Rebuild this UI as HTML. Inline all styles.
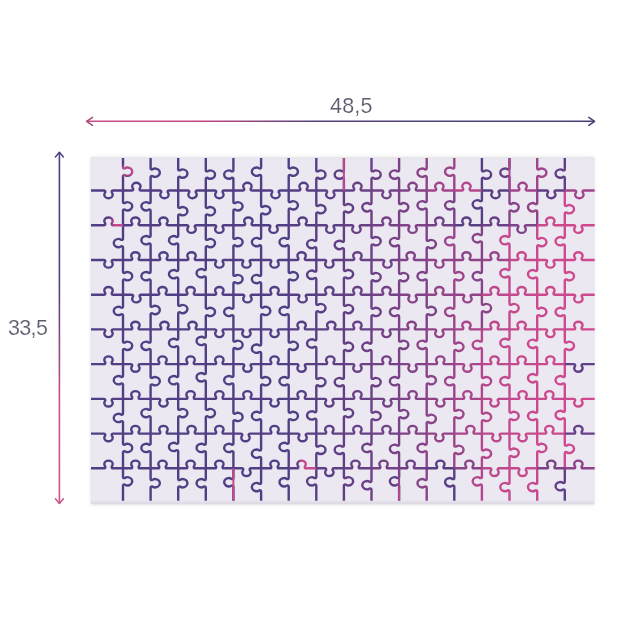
<!DOCTYPE html>
<html><head><meta charset="utf-8">
<style>
html,body{margin:0;padding:0;background:#fff;}
body{width:620px;height:620px;position:relative;overflow:hidden;font-family:"Liberation Sans",sans-serif;}
.bg{position:absolute;left:91px;top:156.5px;width:503.4px;height:347px;background:linear-gradient(#e6e5eb 0,#eae8f0 3px,#ebe8f1 6px);box-shadow:0 0 4px rgba(60,50,80,0.10),0 1px 2px rgba(60,50,80,0.10),inset 0 -2.5px 1.5px rgba(60,50,80,0.07);}
.t{position:absolute;color:#5b5b6d;will-change:transform;font-size:21.5px;line-height:22px;letter-spacing:0.2px;-webkit-text-stroke:0.15px #fff;}
svg{position:absolute;left:0;top:0;}
</style></head><body>
<div class="bg"></div>
<div class="t" style="left:329.5px;top:94.7px;">48,5</div>
<div class="t" style="left:7.5px;top:316.5px;letter-spacing:-0.65px;">33,5</div>
<svg width="620" height="620" viewBox="0 0 620 620">
<defs>
<linearGradient id="gh" x1="86" y1="0" x2="595" y2="0" gradientUnits="userSpaceOnUse">
<stop offset="0" stop-color="#cc4c88"/><stop offset="0.22" stop-color="#c44884"/><stop offset="0.45" stop-color="#534279"/><stop offset="1" stop-color="#4a3f76"/>
</linearGradient>
<linearGradient id="gv" x1="0" y1="152" x2="0" y2="504" gradientUnits="userSpaceOnUse">
<stop offset="0" stop-color="#4b4282"/><stop offset="0.38" stop-color="#54407e"/><stop offset="0.72" stop-color="#c9508a"/><stop offset="1" stop-color="#d0528a"/>
</linearGradient>
</defs>
<g fill="none" stroke-width="1.6" stroke-linecap="round" stroke-linejoin="round">
<path d="M86.5 121.3H594.5" stroke="url(#gh)" stroke-linecap="butt"/>
<path d="M92.5 117.4L86.6 121.3L92.5 125.3" stroke="#a84a7c" stroke-width="1.5"/>
<path d="M588.8 117.4L594.6 121.3L588.8 125.3" stroke="#4a3f76" stroke-width="1.5"/>
<path d="M59.4 152V503.8" stroke="url(#gv)" stroke-linecap="butt"/>
<path d="M55.4 156.9L59.4 152.2L63.4 156.9" stroke="#4b4282" stroke-width="1.5"/>
<path d="M55.4 498.8L59.4 503.5L63.4 498.8" stroke="#c8568a" stroke-width="1.5"/>
</g>
<g fill="none" stroke-width="2.4" stroke-linecap="butt" stroke-linejoin="round">
<defs><linearGradient id="g0" gradientUnits="userSpaceOnUse" x1="123" y1="158" x2="123" y2="190.5"><stop offset="0.18" stop-color="#523e84"/><stop offset="0.3" stop-color="#ba488c"/><stop offset="0.5" stop-color="#ba488c"/><stop offset="0.6" stop-color="#523e84"/></linearGradient><linearGradient id="g1" gradientUnits="userSpaceOnUse" x1="91" y1="225.2" x2="123" y2="225.2"><stop offset="0.55" stop-color="#523e84"/><stop offset="0.75" stop-color="#c7498d"/></linearGradient><linearGradient id="g2" gradientUnits="userSpaceOnUse" x1="288.7" y1="468.3" x2="316.3" y2="468.3"><stop offset="0.3" stop-color="#583f84"/><stop offset="0.5" stop-color="#c7498d"/></linearGradient><linearGradient id="gx1" gradientUnits="userSpaceOnUse" x1="0" y1="468.3" x2="0" y2="500.8"><stop offset="0.2" stop-color="#804288"/><stop offset="0.8" stop-color="#ba488c"/></linearGradient></defs>
<path d="M123 158L123 167.08Q123 168.48 124.4 168.48C125.4 168.48 125.4 167.48 127.2 167.48A4.2 3.5 0 0 1 127.2 175.88C125.4 175.88 125.4 174.88 124.4 174.88Q123 174.88 123 176.28L123 190.5" stroke="url(#g0)"/>
<path d="M150.6 158L150.6 168.05Q150.6 169.45 152 169.45C153 169.45 153 168.45 154.8 168.45A4.2 3.5 0 0 1 154.8 176.85C153 176.85 153 175.85 152 175.85Q150.6 175.85 150.6 177.25L150.6 190.5" stroke="#523e84"/>
<path d="M178.2 158L178.2 169.02Q178.2 170.42 179.6 170.42C180.6 170.42 180.6 169.42 182.4 169.42A4.2 3.5 0 0 1 182.4 177.82C180.6 177.82 180.6 176.82 179.6 176.82Q178.2 176.82 178.2 178.22L178.2 190.5" stroke="#523e84"/>
<path d="M205.8 158L205.8 169.99Q205.8 171.39 207.2 171.39C208.2 171.39 208.2 170.39 210 170.39A4.2 3.5 0 0 1 210 178.79C208.2 178.79 208.2 177.79 207.2 177.79Q205.8 177.79 205.8 179.19L205.8 190.5" stroke="#523e84"/>
<path d="M233.4 158L233.4 169.99Q233.4 171.39 232 171.39C231 171.39 231 170.39 229.2 170.39A4.2 3.5 0 0 0 229.2 178.79C231 178.79 231 177.79 232 177.79Q233.4 177.79 233.4 179.19L233.4 190.5" stroke="#523e84"/>
<path d="M261.1 158L261.1 167.08Q261.1 168.48 259.7 168.48C258.7 168.48 258.7 167.48 256.9 167.48A4.2 3.5 0 0 0 256.9 175.88C258.7 175.88 258.7 174.88 259.7 174.88Q261.1 174.88 261.1 176.28L261.1 190.5" stroke="#523e84"/>
<path d="M288.7 158L288.7 167.08Q288.7 168.48 290.1 168.48C291.1 168.48 291.1 167.48 292.9 167.48A4.2 3.5 0 0 1 292.9 175.88C291.1 175.88 291.1 174.88 290.1 174.88Q288.7 174.88 288.7 176.28L288.7 190.5" stroke="#523e84"/>
<path d="M316.3 158L316.3 169.99Q316.3 171.39 317.7 171.39C318.7 171.39 318.7 170.39 320.5 170.39A4.2 3.5 0 0 1 320.5 178.79C318.7 178.79 318.7 177.79 317.7 177.79Q316.3 177.79 316.3 179.19L316.3 190.5" stroke="#583f84"/>
<path d="M343.9 158L343.9 169.99Q343.9 171.39 342.5 171.39C341.5 171.39 341.5 170.39 339.7 170.39A4.2 3.5 0 0 0 339.7 178.79C341.5 178.79 341.5 177.79 342.5 177.79Q343.9 177.79 343.9 179.19L343.9 190.5" stroke="#5f3f85"/>
<path d="M371.5 158L371.5 169.99Q371.5 171.39 372.9 171.39C373.9 171.39 373.9 170.39 375.7 170.39A4.2 3.5 0 0 1 375.7 178.79C373.9 178.79 373.9 177.79 372.9 177.79Q371.5 177.79 371.5 179.19L371.5 190.5" stroke="#6c4086"/>
<path d="M399.1 158L399.1 169.99Q399.1 171.39 397.7 171.39C396.7 171.39 396.7 170.39 394.9 170.39A4.2 3.5 0 0 0 394.9 178.79C396.7 178.79 396.7 177.79 397.7 177.79Q399.1 177.79 399.1 179.19L399.1 190.5" stroke="#794287"/>
<path d="M426.7 158L426.7 168.05Q426.7 169.45 425.3 169.45C424.3 169.45 424.3 168.45 422.5 168.45A4.2 3.5 0 0 0 422.5 176.85C424.3 176.85 424.3 175.85 425.3 175.85Q426.7 175.85 426.7 177.25L426.7 190.5" stroke="#8c4388"/>
<path d="M454.3 158L454.3 167.08Q454.3 168.48 452.9 168.48C451.9 168.48 451.9 167.48 450.1 167.48A4.2 3.5 0 0 0 450.1 175.88C451.9 175.88 451.9 174.88 452.9 174.88Q454.3 174.88 454.3 176.28L454.3 190.5" stroke="#9d458a"/>
<path d="M481.9 158L481.9 169.99Q481.9 171.39 483.3 171.39C484.3 171.39 484.3 170.39 486.1 170.39A4.2 3.5 0 0 1 486.1 178.79C484.3 178.79 484.3 177.79 483.3 177.79Q481.9 177.79 481.9 179.19L481.9 190.5" stroke="#583f84"/>
<path d="M509.5 158L509.5 168.05Q509.5 169.45 508.1 169.45C507.1 169.45 507.1 168.45 505.3 168.45A4.2 3.5 0 0 0 505.3 176.85C507.1 176.85 507.1 175.85 508.1 175.85Q509.5 175.85 509.5 177.25L509.5 190.5" stroke="#664086"/>
<path d="M537.2 158L537.2 168.05Q537.2 169.45 538.6 169.45C539.6 169.45 539.6 168.45 541.4 168.45A4.2 3.5 0 0 1 541.4 176.85C539.6 176.85 539.6 175.85 538.6 175.85Q537.2 175.85 537.2 177.25L537.2 190.5" stroke="#a0458a"/>
<path d="M564.8 158L564.8 169.02Q564.8 170.42 563.4 170.42C562.4 170.42 562.4 169.42 560.6 169.42A4.2 3.5 0 0 0 560.6 177.82C562.4 177.82 562.4 176.82 563.4 176.82Q564.8 176.82 564.8 178.22L564.8 190.5" stroke="#5f3f85"/>
<path d="M123 190.5L123 201.69Q123 203.09 124.4 203.09C125.4 203.09 125.4 202.09 127.2 202.09A4.2 3.5 0 0 1 127.2 210.49C125.4 210.49 125.4 209.49 124.4 209.49Q123 209.49 123 210.89L123 225.2" stroke="#523e84"/>
<path d="M150.6 190.5L150.6 201.69Q150.6 203.09 149.2 203.09C148.2 203.09 148.2 202.09 146.4 202.09A4.2 3.5 0 0 0 146.4 210.49C148.2 210.49 148.2 209.49 149.2 209.49Q150.6 209.49 150.6 210.89L150.6 225.2" stroke="#523e84"/>
<path d="M178.2 190.5L178.2 206.53Q178.2 207.93 179.6 207.93C180.6 207.93 180.6 206.93 182.4 206.93A4.2 3.5 0 0 1 182.4 215.33C180.6 215.33 180.6 214.33 179.6 214.33Q178.2 214.33 178.2 215.73L178.2 225.2" stroke="#523e84"/>
<path d="M205.8 190.5L205.8 206.53Q205.8 207.93 207.2 207.93C208.2 207.93 208.2 206.93 210 206.93A4.2 3.5 0 0 1 210 215.33C208.2 215.33 208.2 214.33 207.2 214.33Q205.8 214.33 205.8 215.73L205.8 225.2" stroke="#523e84"/>
<path d="M233.4 190.5L233.4 201.69Q233.4 203.09 234.8 203.09C235.8 203.09 235.8 202.09 237.6 202.09A4.2 3.5 0 0 1 237.6 210.49C235.8 210.49 235.8 209.49 234.8 209.49Q233.4 209.49 233.4 210.89L233.4 225.2" stroke="#523e84"/>
<path d="M261.1 190.5L261.1 205.56Q261.1 206.96 262.5 206.96C263.5 206.96 263.5 205.96 265.3 205.96A4.2 3.5 0 0 1 265.3 214.36C263.5 214.36 263.5 213.36 262.5 213.36Q261.1 213.36 261.1 214.76L261.1 225.2" stroke="#523e84"/>
<path d="M288.7 190.5L288.7 200.72Q288.7 202.12 290.1 202.12C291.1 202.12 291.1 201.12 292.9 201.12A4.2 3.5 0 0 1 292.9 209.52C291.1 209.52 291.1 208.52 290.1 208.52Q288.7 208.52 288.7 209.92L288.7 225.2" stroke="#523e84"/>
<path d="M316.3 190.5L316.3 204.59Q316.3 205.99 317.7 205.99C318.7 205.99 318.7 204.99 320.5 204.99A4.2 3.5 0 0 1 320.5 213.39C318.7 213.39 318.7 212.39 317.7 212.39Q316.3 212.39 316.3 213.79L316.3 225.2" stroke="#583f84"/>
<path d="M343.9 190.5L343.9 203.63Q343.9 205.03 345.3 205.03C346.3 205.03 346.3 204.03 348.1 204.03A4.2 3.5 0 0 1 348.1 212.43C346.3 212.43 346.3 211.43 345.3 211.43Q343.9 211.43 343.9 212.83L343.9 225.2" stroke="#623f85"/>
<path d="M371.5 190.5L371.5 202.66Q371.5 204.06 370.1 204.06C369.1 204.06 369.1 203.06 367.3 203.06A4.2 3.5 0 0 0 367.3 211.46C369.1 211.46 369.1 210.46 370.1 210.46Q371.5 210.46 371.5 211.86L371.5 225.2" stroke="#6c4086"/>
<path d="M399.1 190.5L399.1 202.66Q399.1 204.06 400.5 204.06C401.5 204.06 401.5 203.06 403.3 203.06A4.2 3.5 0 0 1 403.3 211.46C401.5 211.46 401.5 210.46 400.5 210.46Q399.1 210.46 399.1 211.86L399.1 225.2" stroke="#794287"/>
<path d="M426.7 190.5L426.7 200.72Q426.7 202.12 425.3 202.12C424.3 202.12 424.3 201.12 422.5 201.12A4.2 3.5 0 0 0 422.5 209.52C424.3 209.52 424.3 208.52 425.3 208.52Q426.7 208.52 426.7 209.92L426.7 225.2" stroke="#7c4287"/>
<path d="M454.3 190.5L454.3 200.72Q454.3 202.12 452.9 202.12C451.9 202.12 451.9 201.12 450.1 201.12A4.2 3.5 0 0 0 450.1 209.52C451.9 209.52 451.9 208.52 452.9 208.52Q454.3 208.52 454.3 209.92L454.3 225.2" stroke="#794287"/>
<path d="M481.9 190.5L481.9 199.75Q481.9 201.15 480.5 201.15C479.5 201.15 479.5 200.15 477.7 200.15A4.2 3.5 0 0 0 477.7 208.55C479.5 208.55 479.5 207.55 480.5 207.55Q481.9 207.55 481.9 208.95L481.9 225.2" stroke="#583f84"/>
<path d="M509.5 190.5L509.5 202.66Q509.5 204.06 510.9 204.06C511.9 204.06 511.9 203.06 513.7 203.06A4.2 3.5 0 0 1 513.7 211.46C511.9 211.46 511.9 210.46 510.9 210.46Q509.5 210.46 509.5 211.86L509.5 225.2" stroke="#864388"/>
<path d="M537.2 190.5L537.2 202.66Q537.2 204.06 535.8 204.06C534.8 204.06 534.8 203.06 533 203.06A4.2 3.5 0 0 0 533 211.46C534.8 211.46 534.8 210.46 535.8 210.46Q537.2 210.46 537.2 211.86L537.2 225.2" stroke="#934489"/>
<path d="M564.8 190.5L564.8 204.59Q564.8 205.99 566.2 205.99C567.2 205.99 567.2 204.99 569 204.99A4.2 3.5 0 0 1 569 213.39C567.2 213.39 567.2 212.39 566.2 212.39Q564.8 212.39 564.8 213.79L564.8 225.2" stroke="#ce498e"/>
<path d="M123 225.2L123 238.46Q123 239.86 121.6 239.86C120.6 239.86 120.6 238.86 118.8 238.86A4.2 3.5 0 0 0 118.8 247.26C120.6 247.26 120.6 246.26 121.6 246.26Q123 246.26 123 247.66L123 259.95" stroke="#523e84"/>
<path d="M150.6 225.2L150.6 235.56Q150.6 236.96 149.2 236.96C148.2 236.96 148.2 235.96 146.4 235.96A4.2 3.5 0 0 0 146.4 244.36C148.2 244.36 148.2 243.36 149.2 243.36Q150.6 243.36 150.6 244.76L150.6 259.95" stroke="#523e84"/>
<path d="M178.2 225.2L178.2 235.56Q178.2 236.96 176.8 236.96C175.8 236.96 175.8 235.96 174 235.96A4.2 3.5 0 0 0 174 244.36C175.8 244.36 175.8 243.36 176.8 243.36Q178.2 243.36 178.2 244.76L178.2 259.95" stroke="#523e84"/>
<path d="M205.8 225.2L205.8 238.46Q205.8 239.86 207.2 239.86C208.2 239.86 208.2 238.86 210 238.86A4.2 3.5 0 0 1 210 247.26C208.2 247.26 208.2 246.26 207.2 246.26Q205.8 246.26 205.8 247.66L205.8 259.95" stroke="#523e84"/>
<path d="M233.4 225.2L233.4 237.5Q233.4 238.9 234.8 238.9C235.8 238.9 235.8 237.9 237.6 237.9A4.2 3.5 0 0 1 237.6 246.3C235.8 246.3 235.8 245.3 234.8 245.3Q233.4 245.3 233.4 246.7L233.4 259.95" stroke="#523e84"/>
<path d="M261.1 225.2L261.1 237.5Q261.1 238.9 259.7 238.9C258.7 238.9 258.7 237.9 256.9 237.9A4.2 3.5 0 0 0 256.9 246.3C258.7 246.3 258.7 245.3 259.7 245.3Q261.1 245.3 261.1 246.7L261.1 259.95" stroke="#523e84"/>
<path d="M288.7 225.2L288.7 237.5Q288.7 238.9 287.3 238.9C286.3 238.9 286.3 237.9 284.5 237.9A4.2 3.5 0 0 0 284.5 246.3C286.3 246.3 286.3 245.3 287.3 245.3Q288.7 245.3 288.7 246.7L288.7 259.95" stroke="#523e84"/>
<path d="M316.3 225.2L316.3 239.43Q316.3 240.83 314.9 240.83C313.9 240.83 313.9 239.83 312.1 239.83A4.2 3.5 0 0 0 312.1 248.23C313.9 248.23 313.9 247.23 314.9 247.23Q316.3 247.23 316.3 248.63L316.3 259.95" stroke="#583f84"/>
<path d="M343.9 225.2L343.9 240.4Q343.9 241.8 342.5 241.8C341.5 241.8 341.5 240.8 339.7 240.8A4.2 3.5 0 0 0 339.7 249.2C341.5 249.2 341.5 248.2 342.5 248.2Q343.9 248.2 343.9 249.6L343.9 259.95" stroke="#623f85"/>
<path d="M371.5 225.2L371.5 236.53Q371.5 237.93 372.9 237.93C373.9 237.93 373.9 236.93 375.7 236.93A4.2 3.5 0 0 1 375.7 245.33C373.9 245.33 373.9 244.33 372.9 244.33Q371.5 244.33 371.5 245.73L371.5 259.95" stroke="#6c4086"/>
<path d="M399.1 225.2L399.1 237.5Q399.1 238.9 397.7 238.9C396.7 238.9 396.7 237.9 394.9 237.9A4.2 3.5 0 0 0 394.9 246.3C396.7 246.3 396.7 245.3 397.7 245.3Q399.1 245.3 399.1 246.7L399.1 259.95" stroke="#794287"/>
<path d="M426.7 225.2L426.7 239.43Q426.7 240.83 428.1 240.83C429.1 240.83 429.1 239.83 430.9 239.83A4.2 3.5 0 0 1 430.9 248.23C429.1 248.23 429.1 247.23 428.1 247.23Q426.7 247.23 426.7 248.63L426.7 259.95" stroke="#7c4287"/>
<path d="M454.3 225.2L454.3 236.53Q454.3 237.93 452.9 237.93C451.9 237.93 451.9 236.93 450.1 236.93A4.2 3.5 0 0 0 450.1 245.33C451.9 245.33 451.9 244.33 452.9 244.33Q454.3 244.33 454.3 245.73L454.3 259.95" stroke="#9d458a"/>
<path d="M481.9 225.2L481.9 233.63Q481.9 235.03 480.5 235.03C479.5 235.03 479.5 234.03 477.7 234.03A4.2 3.5 0 0 0 477.7 242.43C479.5 242.43 479.5 241.43 480.5 241.43Q481.9 241.43 481.9 242.83L481.9 259.95" stroke="#864388"/>
<path d="M509.5 225.2L509.5 235.56Q509.5 236.96 508.1 236.96C507.1 236.96 507.1 235.96 505.3 235.96A4.2 3.5 0 0 0 505.3 244.36C507.1 244.36 507.1 243.36 508.1 243.36Q509.5 243.36 509.5 244.76L509.5 259.95" stroke="#c4498d"/>
<path d="M537.2 225.2L537.2 237.5Q537.2 238.9 538.6 238.9C539.6 238.9 539.6 237.9 541.4 237.9A4.2 3.5 0 0 1 541.4 246.3C539.6 246.3 539.6 245.3 538.6 245.3Q537.2 245.3 537.2 246.7L537.2 259.95" stroke="#cb498d"/>
<path d="M564.8 225.2L564.8 236.53Q564.8 237.93 563.4 237.93C562.4 237.93 562.4 236.93 560.6 236.93A4.2 3.5 0 0 0 560.6 245.33C562.4 245.33 562.4 244.33 563.4 244.33Q564.8 244.33 564.8 245.73L564.8 259.95" stroke="#ce498e"/>
<path d="M123 259.95L123 271.53Q123 272.93 124.4 272.93C125.4 272.93 125.4 271.93 127.2 271.93A4.2 3.5 0 0 1 127.2 280.33C125.4 280.33 125.4 279.33 124.4 279.33Q123 279.33 123 280.73L123 294.7" stroke="#523e84"/>
<path d="M150.6 259.95L150.6 271.53Q150.6 272.93 149.2 272.93C148.2 272.93 148.2 271.93 146.4 271.93A4.2 3.5 0 0 0 146.4 280.33C148.2 280.33 148.2 279.33 149.2 279.33Q150.6 279.33 150.6 280.73L150.6 294.7" stroke="#523e84"/>
<path d="M178.2 259.95L178.2 269.59Q178.2 270.99 176.8 270.99C175.8 270.99 175.8 269.99 174 269.99A4.2 3.5 0 0 0 174 278.39C175.8 278.39 175.8 277.39 176.8 277.39Q178.2 277.39 178.2 278.79L178.2 294.7" stroke="#523e84"/>
<path d="M205.8 259.95L205.8 268.63Q205.8 270.03 204.4 270.03C203.4 270.03 203.4 269.03 201.6 269.03A4.2 3.5 0 0 0 201.6 277.43C203.4 277.43 203.4 276.43 204.4 276.43Q205.8 276.43 205.8 277.83L205.8 294.7" stroke="#523e84"/>
<path d="M233.4 259.95L233.4 274.43Q233.4 275.83 234.8 275.83C235.8 275.83 235.8 274.83 237.6 274.83A4.2 3.5 0 0 1 237.6 283.23C235.8 283.23 235.8 282.23 234.8 282.23Q233.4 282.23 233.4 283.63L233.4 294.7" stroke="#523e84"/>
<path d="M261.1 259.95L261.1 274.43Q261.1 275.83 259.7 275.83C258.7 275.83 258.7 274.83 256.9 274.83A4.2 3.5 0 0 0 256.9 283.23C258.7 283.23 258.7 282.23 259.7 282.23Q261.1 282.23 261.1 283.63L261.1 294.7" stroke="#523e84"/>
<path d="M288.7 259.95L288.7 271.53Q288.7 272.93 290.1 272.93C291.1 272.93 291.1 271.93 292.9 271.93A4.2 3.5 0 0 1 292.9 280.33C291.1 280.33 291.1 279.33 290.1 279.33Q288.7 279.33 288.7 280.73L288.7 294.7" stroke="#523e84"/>
<path d="M316.3 259.95L316.3 270.17Q316.3 271.57 314.9 271.57C313.9 271.57 313.9 270.57 312.1 270.57A4.2 3.5 0 0 0 312.1 278.97C313.9 278.97 313.9 277.97 314.9 277.97Q316.3 277.97 316.3 279.37L316.3 294.7" stroke="#583f84"/>
<path d="M343.9 259.95L343.9 269.59Q343.9 270.99 345.3 270.99C346.3 270.99 346.3 269.99 348.1 269.99A4.2 3.5 0 0 1 348.1 278.39C346.3 278.39 346.3 277.39 345.3 277.39Q343.9 277.39 343.9 278.79L343.9 294.7" stroke="#623f85"/>
<path d="M371.5 259.95L371.5 272.5Q371.5 273.9 372.9 273.9C373.9 273.9 373.9 272.9 375.7 272.9A4.2 3.5 0 0 1 375.7 281.3C373.9 281.3 373.9 280.3 372.9 280.3Q371.5 280.3 371.5 281.7L371.5 294.7" stroke="#6c4086"/>
<path d="M399.1 259.95L399.1 272.5Q399.1 273.9 400.5 273.9C401.5 273.9 401.5 272.9 403.3 272.9A4.2 3.5 0 0 1 403.3 281.3C401.5 281.3 401.5 280.3 400.5 280.3Q399.1 280.3 399.1 281.7L399.1 294.7" stroke="#794287"/>
<path d="M426.7 259.95L426.7 271.53Q426.7 272.93 425.3 272.93C424.3 272.93 424.3 271.93 422.5 271.93A4.2 3.5 0 0 0 422.5 280.33C424.3 280.33 424.3 279.33 425.3 279.33Q426.7 279.33 426.7 280.73L426.7 294.7" stroke="#7c4287"/>
<path d="M454.3 259.95L454.3 271.53Q454.3 272.93 455.7 272.93C456.7 272.93 456.7 271.93 458.5 271.93A4.2 3.5 0 0 1 458.5 280.33C456.7 280.33 456.7 279.33 455.7 279.33Q454.3 279.33 454.3 280.73L454.3 294.7" stroke="#9d458a"/>
<path d="M481.9 259.95L481.9 271.53Q481.9 272.93 480.5 272.93C479.5 272.93 479.5 271.93 477.7 271.93A4.2 3.5 0 0 0 477.7 280.33C479.5 280.33 479.5 279.33 480.5 279.33Q481.9 279.33 481.9 280.73L481.9 294.7" stroke="#864388"/>
<path d="M509.5 259.95L509.5 268.63Q509.5 270.03 508.1 270.03C507.1 270.03 507.1 269.03 505.3 269.03A4.2 3.5 0 0 0 505.3 277.43C507.1 277.43 507.1 276.43 508.1 276.43Q509.5 276.43 509.5 277.83L509.5 294.7" stroke="#c4498d"/>
<path d="M537.2 259.95L537.2 269.59Q537.2 270.99 535.8 270.99C534.8 270.99 534.8 269.99 533 269.99A4.2 3.5 0 0 0 533 278.39C534.8 278.39 534.8 277.39 535.8 277.39Q537.2 277.39 537.2 278.79L537.2 294.7" stroke="#cb498d"/>
<path d="M564.8 259.95L564.8 271.53Q564.8 272.93 566.2 272.93C567.2 272.93 567.2 271.93 569 271.93A4.2 3.5 0 0 1 569 280.33C567.2 280.33 567.2 279.33 566.2 279.33Q564.8 279.33 564.8 280.73L564.8 294.7" stroke="#ce498e"/>
<path d="M123 294.7L123 306.37Q123 307.77 121.6 307.77C120.6 307.77 120.6 306.77 118.8 306.77A4.2 3.5 0 0 0 118.8 315.17C120.6 315.17 120.6 314.17 121.6 314.17Q123 314.17 123 315.57L123 329.4" stroke="#523e84"/>
<path d="M150.6 294.7L150.6 305.4Q150.6 306.8 152 306.8C153 306.8 153 305.8 154.8 305.8A4.2 3.5 0 0 1 154.8 314.2C153 314.2 153 313.2 152 313.2Q150.6 313.2 150.6 314.6L150.6 329.4" stroke="#523e84"/>
<path d="M178.2 294.7L178.2 304.43Q178.2 305.83 179.6 305.83C180.6 305.83 180.6 304.83 182.4 304.83A4.2 3.5 0 0 1 182.4 313.23C180.6 313.23 180.6 312.23 179.6 312.23Q178.2 312.23 178.2 313.63L178.2 329.4" stroke="#523e84"/>
<path d="M205.8 294.7L205.8 307.34Q205.8 308.74 207.2 308.74C208.2 308.74 208.2 307.74 210 307.74A4.2 3.5 0 0 1 210 316.14C208.2 316.14 208.2 315.14 207.2 315.14Q205.8 315.14 205.8 316.54L205.8 329.4" stroke="#523e84"/>
<path d="M233.4 294.7L233.4 307.34Q233.4 308.74 232 308.74C231 308.74 231 307.74 229.2 307.74A4.2 3.5 0 0 0 229.2 316.14C231 316.14 231 315.14 232 315.14Q233.4 315.14 233.4 316.54L233.4 329.4" stroke="#523e84"/>
<path d="M261.1 294.7L261.1 306.37Q261.1 307.77 262.5 307.77C263.5 307.77 263.5 306.77 265.3 306.77A4.2 3.5 0 0 1 265.3 315.17C263.5 315.17 263.5 314.17 262.5 314.17Q261.1 314.17 261.1 315.57L261.1 329.4" stroke="#523e84"/>
<path d="M288.7 294.7L288.7 306.37Q288.7 307.77 287.3 307.77C286.3 307.77 286.3 306.77 284.5 306.77A4.2 3.5 0 0 0 284.5 315.17C286.3 315.17 286.3 314.17 287.3 314.17Q288.7 314.17 288.7 315.57L288.7 329.4" stroke="#523e84"/>
<path d="M316.3 294.7L316.3 303.46Q316.3 304.86 317.7 304.86C318.7 304.86 318.7 303.86 320.5 303.86A4.2 3.5 0 0 1 320.5 312.26C318.7 312.26 318.7 311.26 317.7 311.26Q316.3 311.26 316.3 312.66L316.3 329.4" stroke="#583f84"/>
<path d="M343.9 294.7L343.9 304.43Q343.9 305.83 345.3 305.83C346.3 305.83 346.3 304.83 348.1 304.83A4.2 3.5 0 0 1 348.1 313.23C346.3 313.23 346.3 312.23 345.3 312.23Q343.9 312.23 343.9 313.63L343.9 329.4" stroke="#623f85"/>
<path d="M371.5 294.7L371.5 307.34Q371.5 308.74 372.9 308.74C373.9 308.74 373.9 307.74 375.7 307.74A4.2 3.5 0 0 1 375.7 316.14C373.9 316.14 373.9 315.14 372.9 315.14Q371.5 315.14 371.5 316.54L371.5 329.4" stroke="#6c4086"/>
<path d="M399.1 294.7L399.1 307.34Q399.1 308.74 397.7 308.74C396.7 308.74 396.7 307.74 394.9 307.74A4.2 3.5 0 0 0 394.9 316.14C396.7 316.14 396.7 315.14 397.7 315.14Q399.1 315.14 399.1 316.54L399.1 329.4" stroke="#794287"/>
<path d="M426.7 294.7L426.7 306.37Q426.7 307.77 428.1 307.77C429.1 307.77 429.1 306.77 430.9 306.77A4.2 3.5 0 0 1 430.9 315.17C429.1 315.17 429.1 314.17 428.1 314.17Q426.7 314.17 426.7 315.57L426.7 329.4" stroke="#7c4287"/>
<path d="M454.3 294.7L454.3 307.34Q454.3 308.74 452.9 308.74C451.9 308.74 451.9 307.74 450.1 307.74A4.2 3.5 0 0 0 450.1 316.14C451.9 316.14 451.9 315.14 452.9 315.14Q454.3 315.14 454.3 316.54L454.3 329.4" stroke="#9d458a"/>
<path d="M481.9 294.7L481.9 303.46Q481.9 304.86 483.3 304.86C484.3 304.86 484.3 303.86 486.1 303.86A4.2 3.5 0 0 1 486.1 312.26C484.3 312.26 484.3 311.26 483.3 311.26Q481.9 311.26 481.9 312.66L481.9 329.4" stroke="#8c4388"/>
<path d="M509.5 294.7L509.5 303.46Q509.5 304.86 510.9 304.86C511.9 304.86 511.9 303.86 513.7 303.86A4.2 3.5 0 0 1 513.7 312.26C511.9 312.26 511.9 311.26 510.9 311.26Q509.5 311.26 509.5 312.66L509.5 329.4" stroke="#c4498d"/>
<path d="M537.2 294.7L537.2 307.34Q537.2 308.74 538.6 308.74C539.6 308.74 539.6 307.74 541.4 307.74A4.2 3.5 0 0 1 541.4 316.14C539.6 316.14 539.6 315.14 538.6 315.14Q537.2 315.14 537.2 316.54L537.2 329.4" stroke="#cb498d"/>
<path d="M564.8 294.7L564.8 307.34Q564.8 308.74 563.4 308.74C562.4 308.74 562.4 307.74 560.6 307.74A4.2 3.5 0 0 0 560.6 316.14C562.4 316.14 562.4 315.14 563.4 315.14Q564.8 315.14 564.8 316.54L564.8 329.4" stroke="#ce498e"/>
<path d="M123 329.4L123 341.21Q123 342.61 124.4 342.61C125.4 342.61 125.4 341.61 127.2 341.61A4.2 3.5 0 0 1 127.2 350.01C125.4 350.01 125.4 349.01 124.4 349.01Q123 349.01 123 350.41L123 364.1" stroke="#523e84"/>
<path d="M150.6 329.4L150.6 341.21Q150.6 342.61 149.2 342.61C148.2 342.61 148.2 341.61 146.4 341.61A4.2 3.5 0 0 0 146.4 350.01C148.2 350.01 148.2 349.01 149.2 349.01Q150.6 349.01 150.6 350.41L150.6 364.1" stroke="#523e84"/>
<path d="M178.2 329.4L178.2 338.3Q178.2 339.7 176.8 339.7C175.8 339.7 175.8 338.7 174 338.7A4.2 3.5 0 0 0 174 347.1C175.8 347.1 175.8 346.1 176.8 346.1Q178.2 346.1 178.2 347.5L178.2 364.1" stroke="#523e84"/>
<path d="M205.8 329.4L205.8 336.37Q205.8 337.77 204.4 337.77C203.4 337.77 203.4 336.77 201.6 336.77A4.2 3.5 0 0 0 201.6 345.17C203.4 345.17 203.4 344.17 204.4 344.17Q205.8 344.17 205.8 345.57L205.8 364.1" stroke="#523e84"/>
<path d="M233.4 329.4L233.4 340.24Q233.4 341.64 234.8 341.64C235.8 341.64 235.8 340.64 237.6 340.64A4.2 3.5 0 0 1 237.6 349.04C235.8 349.04 235.8 348.04 234.8 348.04Q233.4 348.04 233.4 349.44L233.4 364.1" stroke="#523e84"/>
<path d="M261.1 329.4L261.1 344.11Q261.1 345.51 259.7 345.51C258.7 345.51 258.7 344.51 256.9 344.51A4.2 3.5 0 0 0 256.9 352.91C258.7 352.91 258.7 351.91 259.7 351.91Q261.1 351.91 261.1 353.31L261.1 364.1" stroke="#523e84"/>
<path d="M288.7 329.4L288.7 341.21Q288.7 342.61 290.1 342.61C291.1 342.61 291.1 341.61 292.9 341.61A4.2 3.5 0 0 1 292.9 350.01C291.1 350.01 291.1 349.01 290.1 349.01Q288.7 349.01 288.7 350.41L288.7 364.1" stroke="#523e84"/>
<path d="M316.3 329.4L316.3 338.88Q316.3 340.28 314.9 340.28C313.9 340.28 313.9 339.28 312.1 339.28A4.2 3.5 0 0 0 312.1 347.68C313.9 347.68 313.9 346.68 314.9 346.68Q316.3 346.68 316.3 348.08L316.3 364.1" stroke="#583f84"/>
<path d="M343.9 329.4L343.9 342.17Q343.9 343.57 345.3 343.57C346.3 343.57 346.3 342.57 348.1 342.57A4.2 3.5 0 0 1 348.1 350.97C346.3 350.97 346.3 349.97 345.3 349.97Q343.9 349.97 343.9 351.37L343.9 364.1" stroke="#623f85"/>
<path d="M371.5 329.4L371.5 342.17Q371.5 343.57 370.1 343.57C369.1 343.57 369.1 342.57 367.3 342.57A4.2 3.5 0 0 0 367.3 350.97C369.1 350.97 369.1 349.97 370.1 349.97Q371.5 349.97 371.5 351.37L371.5 364.1" stroke="#6c4086"/>
<path d="M399.1 329.4L399.1 340.24Q399.1 341.64 400.5 341.64C401.5 341.64 401.5 340.64 403.3 340.64A4.2 3.5 0 0 1 403.3 349.04C401.5 349.04 401.5 348.04 400.5 348.04Q399.1 348.04 399.1 349.44L399.1 364.1" stroke="#794287"/>
<path d="M426.7 329.4L426.7 340.24Q426.7 341.64 425.3 341.64C424.3 341.64 424.3 340.64 422.5 340.64A4.2 3.5 0 0 0 422.5 349.04C424.3 349.04 424.3 348.04 425.3 348.04Q426.7 348.04 426.7 349.44L426.7 364.1" stroke="#894388"/>
<path d="M454.3 329.4L454.3 342.17Q454.3 343.57 455.7 343.57C456.7 343.57 456.7 342.57 458.5 342.57A4.2 3.5 0 0 1 458.5 350.97C456.7 350.97 456.7 349.97 455.7 349.97Q454.3 349.97 454.3 351.37L454.3 364.1" stroke="#9d458a"/>
<path d="M481.9 329.4L481.9 340.24Q481.9 341.64 480.5 341.64C479.5 341.64 479.5 340.64 477.7 340.64A4.2 3.5 0 0 0 477.7 349.04C479.5 349.04 479.5 348.04 480.5 348.04Q481.9 348.04 481.9 349.44L481.9 364.1" stroke="#b4478c"/>
<path d="M509.5 329.4L509.5 338.3Q509.5 339.7 508.1 339.7C507.1 339.7 507.1 338.7 505.3 338.7A4.2 3.5 0 0 0 505.3 347.1C507.1 347.1 507.1 346.1 508.1 346.1Q509.5 346.1 509.5 347.5L509.5 364.1" stroke="#c4498d"/>
<path d="M537.2 329.4L537.2 339.27Q537.2 340.67 535.8 340.67C534.8 340.67 534.8 339.67 533 339.67A4.2 3.5 0 0 0 533 348.07C534.8 348.07 534.8 347.07 535.8 347.07Q537.2 347.07 537.2 348.47L537.2 364.1" stroke="#cb498d"/>
<path d="M564.8 329.4L564.8 341.21Q564.8 342.61 566.2 342.61C567.2 342.61 567.2 341.61 569 341.61A4.2 3.5 0 0 1 569 350.01C567.2 350.01 567.2 349.01 566.2 349.01Q564.8 349.01 564.8 350.41L564.8 364.1" stroke="#ce498e"/>
<path d="M123 364.1L123 375.56Q123 376.96 121.6 376.96C120.6 376.96 120.6 375.96 118.8 375.96A4.2 3.5 0 0 0 118.8 384.36C120.6 384.36 120.6 383.36 121.6 383.36Q123 383.36 123 384.76L123 398.85" stroke="#523e84"/>
<path d="M150.6 364.1L150.6 376.53Q150.6 377.93 152 377.93C153 377.93 153 376.93 154.8 376.93A4.2 3.5 0 0 1 154.8 385.33C153 385.33 153 384.33 152 384.33Q150.6 384.33 150.6 385.73L150.6 398.85" stroke="#523e84"/>
<path d="M178.2 364.1L178.2 375.56Q178.2 376.96 176.8 376.96C175.8 376.96 175.8 375.96 174 375.96A4.2 3.5 0 0 0 174 384.36C175.8 384.36 175.8 383.36 176.8 383.36Q178.2 383.36 178.2 384.76L178.2 398.85" stroke="#523e84"/>
<path d="M205.8 364.1L205.8 372.66Q205.8 374.06 204.4 374.06C203.4 374.06 203.4 373.06 201.6 373.06A4.2 3.5 0 0 0 201.6 381.46C203.4 381.46 203.4 380.46 204.4 380.46Q205.8 380.46 205.8 381.86L205.8 398.85" stroke="#523e84"/>
<path d="M233.4 364.1L233.4 375.56Q233.4 376.96 232 376.96C231 376.96 231 375.96 229.2 375.96A4.2 3.5 0 0 0 229.2 384.36C231 384.36 231 383.36 232 383.36Q233.4 383.36 233.4 384.76L233.4 398.85" stroke="#523e84"/>
<path d="M261.1 364.1L261.1 376.53Q261.1 377.93 262.5 377.93C263.5 377.93 263.5 376.93 265.3 376.93A4.2 3.5 0 0 1 265.3 385.33C263.5 385.33 263.5 384.33 262.5 384.33Q261.1 384.33 261.1 385.73L261.1 398.85" stroke="#523e84"/>
<path d="M288.7 364.1L288.7 376.53Q288.7 377.93 287.3 377.93C286.3 377.93 286.3 376.93 284.5 376.93A4.2 3.5 0 0 0 284.5 385.33C286.3 385.33 286.3 384.33 287.3 384.33Q288.7 384.33 288.7 385.73L288.7 398.85" stroke="#523e84"/>
<path d="M316.3 364.1L316.3 377.5Q316.3 378.9 317.7 378.9C318.7 378.9 318.7 377.9 320.5 377.9A4.2 3.5 0 0 1 320.5 386.3C318.7 386.3 318.7 385.3 317.7 385.3Q316.3 385.3 316.3 386.7L316.3 398.85" stroke="#583f84"/>
<path d="M343.9 364.1L343.9 377.5Q343.9 378.9 342.5 378.9C341.5 378.9 341.5 377.9 339.7 377.9A4.2 3.5 0 0 0 339.7 386.3C341.5 386.3 341.5 385.3 342.5 385.3Q343.9 385.3 343.9 386.7L343.9 398.85" stroke="#623f85"/>
<path d="M371.5 364.1L371.5 377.5Q371.5 378.9 372.9 378.9C373.9 378.9 373.9 377.9 375.7 377.9A4.2 3.5 0 0 1 375.7 386.3C373.9 386.3 373.9 385.3 372.9 385.3Q371.5 385.3 371.5 386.7L371.5 398.85" stroke="#6c4086"/>
<path d="M399.1 364.1L399.1 376.53Q399.1 377.93 397.7 377.93C396.7 377.93 396.7 376.93 394.9 376.93A4.2 3.5 0 0 0 394.9 385.33C396.7 385.33 396.7 384.33 397.7 384.33Q399.1 384.33 399.1 385.73L399.1 398.85" stroke="#794287"/>
<path d="M426.7 364.1L426.7 375.56Q426.7 376.96 428.1 376.96C429.1 376.96 429.1 375.96 430.9 375.96A4.2 3.5 0 0 1 430.9 384.36C429.1 384.36 429.1 383.36 428.1 383.36Q426.7 383.36 426.7 384.76L426.7 398.85" stroke="#894388"/>
<path d="M454.3 364.1L454.3 376.53Q454.3 377.93 452.9 377.93C451.9 377.93 451.9 376.93 450.1 376.93A4.2 3.5 0 0 0 450.1 385.33C451.9 385.33 451.9 384.33 452.9 384.33Q454.3 384.33 454.3 385.73L454.3 398.85" stroke="#9d458a"/>
<path d="M481.9 364.1L481.9 376.53Q481.9 377.93 483.3 377.93C484.3 377.93 484.3 376.93 486.1 376.93A4.2 3.5 0 0 1 486.1 385.33C484.3 385.33 484.3 384.33 483.3 384.33Q481.9 384.33 481.9 385.73L481.9 398.85" stroke="#b4478c"/>
<path d="M509.5 364.1L509.5 376.53Q509.5 377.93 508.1 377.93C507.1 377.93 507.1 376.93 505.3 376.93A4.2 3.5 0 0 0 505.3 385.33C507.1 385.33 507.1 384.33 508.1 384.33Q509.5 384.33 509.5 385.73L509.5 398.85" stroke="#c4498d"/>
<path d="M537.2 364.1L537.2 373.63Q537.2 375.03 535.8 375.03C534.8 375.03 534.8 374.03 533 374.03A4.2 3.5 0 0 0 533 382.43C534.8 382.43 534.8 381.43 535.8 381.43Q537.2 381.43 537.2 382.83L537.2 398.85" stroke="#cb498d"/>
<path d="M564.8 364.1L564.8 375.56Q564.8 376.96 563.4 376.96C562.4 376.96 562.4 375.96 560.6 375.96A4.2 3.5 0 0 0 560.6 384.36C562.4 384.36 562.4 383.36 563.4 383.36Q564.8 383.36 564.8 384.76L564.8 398.85" stroke="#ce498e"/>
<path d="M123 398.85L123 413.3Q123 414.7 121.6 414.7C120.6 414.7 120.6 413.7 118.8 413.7A4.2 3.5 0 0 0 118.8 422.1C120.6 422.1 120.6 421.1 121.6 421.1Q123 421.1 123 422.5L123 433.6" stroke="#523e84"/>
<path d="M150.6 398.85L150.6 408.46Q150.6 409.86 149.2 409.86C148.2 409.86 148.2 408.86 146.4 408.86A4.2 3.5 0 0 0 146.4 417.26C148.2 417.26 148.2 416.26 149.2 416.26Q150.6 416.26 150.6 417.66L150.6 433.6" stroke="#523e84"/>
<path d="M178.2 398.85L178.2 408.46Q178.2 409.86 179.6 409.86C180.6 409.86 180.6 408.86 182.4 408.86A4.2 3.5 0 0 1 182.4 417.26C180.6 417.26 180.6 416.26 179.6 416.26Q178.2 416.26 178.2 417.66L178.2 433.6" stroke="#523e84"/>
<path d="M205.8 398.85L205.8 408.46Q205.8 409.86 207.2 409.86C208.2 409.86 208.2 408.86 210 408.86A4.2 3.5 0 0 1 210 417.26C208.2 417.26 208.2 416.26 207.2 416.26Q205.8 416.26 205.8 417.66L205.8 433.6" stroke="#523e84"/>
<path d="M233.4 398.85L233.4 412.34Q233.4 413.74 234.8 413.74C235.8 413.74 235.8 412.74 237.6 412.74A4.2 3.5 0 0 1 237.6 421.14C235.8 421.14 235.8 420.14 234.8 420.14Q233.4 420.14 233.4 421.54L233.4 433.6" stroke="#523e84"/>
<path d="M261.1 398.85L261.1 411.37Q261.1 412.77 259.7 412.77C258.7 412.77 258.7 411.77 256.9 411.77A4.2 3.5 0 0 0 256.9 420.17C258.7 420.17 258.7 419.17 259.7 419.17Q261.1 419.17 261.1 420.57L261.1 433.6" stroke="#523e84"/>
<path d="M288.7 398.85L288.7 411.37Q288.7 412.77 290.1 412.77C291.1 412.77 291.1 411.77 292.9 411.77A4.2 3.5 0 0 1 292.9 420.17C291.1 420.17 291.1 419.17 290.1 419.17Q288.7 419.17 288.7 420.57L288.7 433.6" stroke="#523e84"/>
<path d="M316.3 398.85L316.3 410.79Q316.3 412.19 314.9 412.19C313.9 412.19 313.9 411.19 312.1 411.19A4.2 3.5 0 0 0 312.1 419.59C313.9 419.59 313.9 418.59 314.9 418.59Q316.3 418.59 316.3 419.99L316.3 433.6" stroke="#583f84"/>
<path d="M343.9 398.85L343.9 408.46Q343.9 409.86 345.3 409.86C346.3 409.86 346.3 408.86 348.1 408.86A4.2 3.5 0 0 1 348.1 417.26C346.3 417.26 346.3 416.26 345.3 416.26Q343.9 416.26 343.9 417.66L343.9 433.6" stroke="#623f85"/>
<path d="M371.5 398.85L371.5 411.37Q371.5 412.77 372.9 412.77C373.9 412.77 373.9 411.77 375.7 411.77A4.2 3.5 0 0 1 375.7 420.17C373.9 420.17 373.9 419.17 372.9 419.17Q371.5 419.17 371.5 420.57L371.5 433.6" stroke="#6c4086"/>
<path d="M399.1 398.85L399.1 409.43Q399.1 410.83 400.5 410.83C401.5 410.83 401.5 409.83 403.3 409.83A4.2 3.5 0 0 1 403.3 418.23C401.5 418.23 401.5 417.23 400.5 417.23Q399.1 417.23 399.1 418.63L399.1 433.6" stroke="#794287"/>
<path d="M426.7 398.85L426.7 414.27Q426.7 415.67 428.1 415.67C429.1 415.67 429.1 414.67 430.9 414.67A4.2 3.5 0 0 1 430.9 423.07C429.1 423.07 429.1 422.07 428.1 422.07Q426.7 422.07 426.7 423.47L426.7 433.6" stroke="#894388"/>
<path d="M454.3 398.85L454.3 409.43Q454.3 410.83 455.7 410.83C456.7 410.83 456.7 409.83 458.5 409.83A4.2 3.5 0 0 1 458.5 418.23C456.7 418.23 456.7 417.23 455.7 417.23Q454.3 417.23 454.3 418.63L454.3 433.6" stroke="#9d458a"/>
<path d="M481.9 398.85L481.9 412.34Q481.9 413.74 483.3 413.74C484.3 413.74 484.3 412.74 486.1 412.74A4.2 3.5 0 0 1 486.1 421.14C484.3 421.14 484.3 420.14 483.3 420.14Q481.9 420.14 481.9 421.54L481.9 433.6" stroke="#b4478c"/>
<path d="M509.5 398.85L509.5 411.37Q509.5 412.77 510.9 412.77C511.9 412.77 511.9 411.77 513.7 411.77A4.2 3.5 0 0 1 513.7 420.17C511.9 420.17 511.9 419.17 510.9 419.17Q509.5 419.17 509.5 420.57L509.5 433.6" stroke="#c4498d"/>
<path d="M537.2 398.85L537.2 411.37Q537.2 412.77 535.8 412.77C534.8 412.77 534.8 411.77 533 411.77A4.2 3.5 0 0 0 533 420.17C534.8 420.17 534.8 419.17 535.8 419.17Q537.2 419.17 537.2 420.57L537.2 433.6" stroke="#cb498d"/>
<path d="M564.8 398.85L564.8 410.4Q564.8 411.8 563.4 411.8C562.4 411.8 562.4 410.8 560.6 410.8A4.2 3.5 0 0 0 560.6 419.2C562.4 419.2 562.4 418.2 563.4 418.2Q564.8 418.2 564.8 419.6L564.8 433.6" stroke="#ce498e"/>
<path d="M123 433.6L123 443.3Q123 444.7 124.4 444.7C125.4 444.7 125.4 443.7 127.2 443.7A4.2 3.5 0 0 1 127.2 452.1C125.4 452.1 125.4 451.1 124.4 451.1Q123 451.1 123 452.5L123 468.3" stroke="#523e84"/>
<path d="M150.6 433.6L150.6 443.3Q150.6 444.7 149.2 444.7C148.2 444.7 148.2 443.7 146.4 443.7A4.2 3.5 0 0 0 146.4 452.1C148.2 452.1 148.2 451.1 149.2 451.1Q150.6 451.1 150.6 452.5L150.6 468.3" stroke="#523e84"/>
<path d="M178.2 433.6L178.2 442.34Q178.2 443.74 176.8 443.74C175.8 443.74 175.8 442.74 174 442.74A4.2 3.5 0 0 0 174 451.14C175.8 451.14 175.8 450.14 176.8 450.14Q178.2 450.14 178.2 451.54L178.2 468.3" stroke="#523e84"/>
<path d="M205.8 433.6L205.8 443.3Q205.8 444.7 204.4 444.7C203.4 444.7 203.4 443.7 201.6 443.7A4.2 3.5 0 0 0 201.6 452.1C203.4 452.1 203.4 451.1 204.4 451.1Q205.8 451.1 205.8 452.5L205.8 468.3" stroke="#523e84"/>
<path d="M233.4 433.6L233.4 443.3Q233.4 444.7 232 444.7C231 444.7 231 443.7 229.2 443.7A4.2 3.5 0 0 0 229.2 452.1C231 452.1 231 451.1 232 451.1Q233.4 451.1 233.4 452.5L233.4 468.3" stroke="#523e84"/>
<path d="M261.1 433.6L261.1 449.11Q261.1 450.51 259.7 450.51C258.7 450.51 258.7 449.51 256.9 449.51A4.2 3.5 0 0 0 256.9 457.91C258.7 457.91 258.7 456.91 259.7 456.91Q261.1 456.91 261.1 458.31L261.1 468.3" stroke="#523e84"/>
<path d="M288.7 433.6L288.7 442.34Q288.7 443.74 287.3 443.74C286.3 443.74 286.3 442.74 284.5 442.74A4.2 3.5 0 0 0 284.5 451.14C286.3 451.14 286.3 450.14 287.3 450.14Q288.7 450.14 288.7 451.54L288.7 468.3" stroke="#523e84"/>
<path d="M316.3 433.6L316.3 445.24Q316.3 446.64 317.7 446.64C318.7 446.64 318.7 445.64 320.5 445.64A4.2 3.5 0 0 1 320.5 454.04C318.7 454.04 318.7 453.04 317.7 453.04Q316.3 453.04 316.3 454.44L316.3 468.3" stroke="#583f84"/>
<path d="M343.9 433.6L343.9 445.24Q343.9 446.64 342.5 446.64C341.5 446.64 341.5 445.64 339.7 445.64A4.2 3.5 0 0 0 339.7 454.04C341.5 454.04 341.5 453.04 342.5 453.04Q343.9 453.04 343.9 454.44L343.9 468.3" stroke="#623f85"/>
<path d="M371.5 433.6L371.5 443.3Q371.5 444.7 370.1 444.7C369.1 444.7 369.1 443.7 367.3 443.7A4.2 3.5 0 0 0 367.3 452.1C369.1 452.1 369.1 451.1 370.1 451.1Q371.5 451.1 371.5 452.5L371.5 468.3" stroke="#6c4086"/>
<path d="M399.1 433.6L399.1 444.27Q399.1 445.67 397.7 445.67C396.7 445.67 396.7 444.67 394.9 444.67A4.2 3.5 0 0 0 394.9 453.07C396.7 453.07 396.7 452.07 397.7 452.07Q399.1 452.07 399.1 453.47L399.1 468.3" stroke="#794287"/>
<path d="M426.7 433.6L426.7 443.3Q426.7 444.7 425.3 444.7C424.3 444.7 424.3 443.7 422.5 443.7A4.2 3.5 0 0 0 422.5 452.1C424.3 452.1 424.3 451.1 425.3 451.1Q426.7 451.1 426.7 452.5L426.7 468.3" stroke="#894388"/>
<path d="M454.3 433.6L454.3 445.24Q454.3 446.64 455.7 446.64C456.7 446.64 456.7 445.64 458.5 445.64A4.2 3.5 0 0 1 458.5 454.04C456.7 454.04 456.7 453.04 455.7 453.04Q454.3 453.04 454.3 454.44L454.3 468.3" stroke="#9d458a"/>
<path d="M481.9 433.6L481.9 449.11Q481.9 450.51 483.3 450.51C484.3 450.51 484.3 449.51 486.1 449.51A4.2 3.5 0 0 1 486.1 457.91C484.3 457.91 484.3 456.91 483.3 456.91Q481.9 456.91 481.9 458.31L481.9 468.3" stroke="#b4478c"/>
<path d="M509.5 433.6L509.5 448.14Q509.5 449.54 510.9 449.54C511.9 449.54 511.9 448.54 513.7 448.54A4.2 3.5 0 0 1 513.7 456.94C511.9 456.94 511.9 455.94 510.9 455.94Q509.5 455.94 509.5 457.34L509.5 468.3" stroke="#c4498d"/>
<path d="M537.2 433.6L537.2 443.3Q537.2 444.7 538.6 444.7C539.6 444.7 539.6 443.7 541.4 443.7A4.2 3.5 0 0 1 541.4 452.1C539.6 452.1 539.6 451.1 538.6 451.1Q537.2 451.1 537.2 452.5L537.2 468.3" stroke="#cb498d"/>
<path d="M564.8 433.6L564.8 444.27Q564.8 445.67 566.2 445.67C567.2 445.67 567.2 444.67 569 444.67A4.2 3.5 0 0 1 569 453.07C567.2 453.07 567.2 452.07 566.2 452.07Q564.8 452.07 564.8 453.47L564.8 468.3" stroke="#ce498e"/>
<path d="M123 468.3L123 476.69Q123 478.09 124.4 478.09C125.4 478.09 125.4 477.09 127.2 477.09A4.2 3.5 0 0 1 127.2 485.49C125.4 485.49 125.4 484.49 124.4 484.49Q123 484.49 123 485.89L123 500.8" stroke="#523e84"/>
<path d="M150.6 468.3L150.6 478.63Q150.6 480.03 152 480.03C153 480.03 153 479.03 154.8 479.03A4.2 3.5 0 0 1 154.8 487.43C153 487.43 153 486.43 152 486.43Q150.6 486.43 150.6 487.83L150.6 500.8" stroke="#523e84"/>
<path d="M178.2 468.3L178.2 478.63Q178.2 480.03 179.6 480.03C180.6 480.03 180.6 479.03 182.4 479.03A4.2 3.5 0 0 1 182.4 487.43C180.6 487.43 180.6 486.43 179.6 486.43Q178.2 486.43 178.2 487.83L178.2 500.8" stroke="#523e84"/>
<path d="M205.8 468.3L205.8 478.63Q205.8 480.03 204.4 480.03C203.4 480.03 203.4 479.03 201.6 479.03A4.2 3.5 0 0 0 201.6 487.43C203.4 487.43 203.4 486.43 204.4 486.43Q205.8 486.43 205.8 487.83L205.8 500.8" stroke="#523e84"/>
<path d="M233.4 468.3L233.4 477.66Q233.4 479.06 232 479.06C231 479.06 231 478.06 229.2 478.06A4.2 3.5 0 0 0 229.2 486.46C231 486.46 231 485.46 232 485.46Q233.4 485.46 233.4 486.86L233.4 500.8" stroke="#523e84"/>
<path d="M261.1 468.3L261.1 482.5Q261.1 483.9 259.7 483.9C258.7 483.9 258.7 482.9 256.9 482.9A4.2 3.5 0 0 0 256.9 491.3C258.7 491.3 258.7 490.3 259.7 490.3Q261.1 490.3 261.1 491.7L261.1 500.8" stroke="#523e84"/>
<path d="M288.7 468.3L288.7 477.66Q288.7 479.06 287.3 479.06C286.3 479.06 286.3 478.06 284.5 478.06A4.2 3.5 0 0 0 284.5 486.46C286.3 486.46 286.3 485.46 287.3 485.46Q288.7 485.46 288.7 486.86L288.7 500.8" stroke="#523e84"/>
<path d="M316.3 468.3L316.3 476.69Q316.3 478.09 314.9 478.09C313.9 478.09 313.9 477.09 312.1 477.09A4.2 3.5 0 0 0 312.1 485.49C313.9 485.49 313.9 484.49 314.9 484.49Q316.3 484.49 316.3 485.89L316.3 500.8" stroke="#583f84"/>
<path d="M343.9 468.3L343.9 476.69Q343.9 478.09 345.3 478.09C346.3 478.09 346.3 477.09 348.1 477.09A4.2 3.5 0 0 1 348.1 485.49C346.3 485.49 346.3 484.49 345.3 484.49Q343.9 484.49 343.9 485.89L343.9 500.8" stroke="#623f85"/>
<path d="M371.5 468.3L371.5 480.56Q371.5 481.96 370.1 481.96C369.1 481.96 369.1 480.96 367.3 480.96A4.2 3.5 0 0 0 367.3 489.36C369.1 489.36 369.1 488.36 370.1 488.36Q371.5 488.36 371.5 489.76L371.5 500.8" stroke="#6c4086"/>
<path d="M399.1 468.3L399.1 476.69Q399.1 478.09 397.7 478.09C396.7 478.09 396.7 477.09 394.9 477.09A4.2 3.5 0 0 0 394.9 485.49C396.7 485.49 396.7 484.49 397.7 484.49Q399.1 484.49 399.1 485.89L399.1 500.8" stroke="#623f85"/>
<path d="M426.7 468.3L426.7 478.63Q426.7 480.03 425.3 480.03C424.3 480.03 424.3 479.03 422.5 479.03A4.2 3.5 0 0 0 422.5 487.43C424.3 487.43 424.3 486.43 425.3 486.43Q426.7 486.43 426.7 487.83L426.7 500.8" stroke="#894388"/>
<path d="M454.3 468.3L454.3 477.66Q454.3 479.06 452.9 479.06C451.9 479.06 451.9 478.06 450.1 478.06A4.2 3.5 0 0 0 450.1 486.46C451.9 486.46 451.9 485.46 452.9 485.46Q454.3 485.46 454.3 486.86L454.3 500.8" stroke="#583f84"/>
<path d="M481.9 468.3L481.9 476.69Q481.9 478.09 480.5 478.09C479.5 478.09 479.5 477.09 477.7 477.09A4.2 3.5 0 0 0 477.7 485.49C479.5 485.49 479.5 484.49 480.5 484.49Q481.9 484.49 481.9 485.89L481.9 500.8" stroke="#b4478c"/>
<path d="M509.5 468.3L509.5 482.5Q509.5 483.9 508.1 483.9C507.1 483.9 507.1 482.9 505.3 482.9A4.2 3.5 0 0 0 505.3 491.3C507.1 491.3 507.1 490.3 508.1 490.3Q509.5 490.3 509.5 491.7L509.5 500.8" stroke="#c4498d"/>
<path d="M537.2 468.3L537.2 482.5Q537.2 483.9 535.8 483.9C534.8 483.9 534.8 482.9 533 482.9A4.2 3.5 0 0 0 533 491.3C534.8 491.3 534.8 490.3 535.8 490.3Q537.2 490.3 537.2 491.7L537.2 500.8" stroke="#c7498d"/>
<path d="M564.8 468.3L564.8 481.53Q564.8 482.93 563.4 482.93C562.4 482.93 562.4 481.93 560.6 481.93A4.2 3.5 0 0 0 560.6 490.33C562.4 490.33 562.4 489.33 563.4 489.33Q564.8 489.33 564.8 490.73L564.8 500.8" stroke="#5f3f85"/>
<path d="M91 190.5L103.9 190.5Q105.3 190.5 105.3 191.9C105.3 192.9 104.3 192.9 104.3 194.7A4.2 3.5 0 0 0 112.7 194.7C112.7 192.9 111.7 192.9 111.7 191.9Q111.7 190.5 113.1 190.5L123 190.5" stroke="#523e84"/>
<path d="M123 190.5L131.79 190.5Q133.19 190.5 133.19 189.1C133.19 188.1 132.19 188.1 132.19 186.3A4.2 3.5 0 0 1 140.59 186.3C140.59 188.1 139.59 188.1 139.59 189.1Q139.59 190.5 140.99 190.5L150.6 190.5" stroke="#523e84"/>
<path d="M150.6 190.5L159.85 190.5Q161.25 190.5 161.25 191.9C161.25 192.9 160.25 192.9 160.25 194.7A4.2 3.5 0 0 0 168.65 194.7C168.65 192.9 167.65 192.9 167.65 191.9Q167.65 190.5 169.05 190.5L178.2 190.5" stroke="#523e84"/>
<path d="M178.2 190.5L187.92 190.5Q189.32 190.5 189.32 191.9C189.32 192.9 188.32 192.9 188.32 194.7A4.2 3.5 0 0 0 196.72 194.7C196.72 192.9 195.72 192.9 195.72 191.9Q195.72 190.5 197.12 190.5L205.8 190.5" stroke="#523e84"/>
<path d="M205.8 190.5L214.75 190.5Q216.15 190.5 216.15 191.9C216.15 192.9 215.15 192.9 215.15 194.7A4.2 3.5 0 0 0 223.55 194.7C223.55 192.9 222.55 192.9 222.55 191.9Q222.55 190.5 223.95 190.5L233.4 190.5" stroke="#523e84"/>
<path d="M233.4 190.5L242.82 190.5Q244.22 190.5 244.22 189.1C244.22 188.1 243.22 188.1 243.22 186.3A4.2 3.5 0 0 1 251.62 186.3C251.62 188.1 250.62 188.1 250.62 189.1Q250.62 190.5 252.02 190.5L261.1 190.5" stroke="#523e84"/>
<path d="M261.1 190.5L270.88 190.5Q272.28 190.5 272.28 191.9C272.28 192.9 271.28 192.9 271.28 194.7A4.2 3.5 0 0 0 279.68 194.7C279.68 192.9 278.68 192.9 278.68 191.9Q278.68 190.5 280.08 190.5L288.7 190.5" stroke="#523e84"/>
<path d="M288.7 190.5L298.95 190.5Q300.35 190.5 300.35 189.1C300.35 188.1 299.35 188.1 299.35 186.3A4.2 3.5 0 0 1 307.75 186.3C307.75 188.1 306.75 188.1 306.75 189.1Q306.75 190.5 308.15 190.5L316.3 190.5" stroke="#563e84"/>
<path d="M316.3 190.5L325.72 190.5Q327.12 190.5 327.12 191.9C327.12 192.9 326.12 192.9 326.12 194.7A4.2 3.5 0 0 0 334.52 194.7C334.52 192.9 333.52 192.9 333.52 191.9Q333.52 190.5 334.92 190.5L343.9 190.5" stroke="#5c3f85"/>
<path d="M343.9 190.5L352.82 190.5Q354.22 190.5 354.22 189.1C354.22 188.1 353.22 188.1 353.22 186.3A4.2 3.5 0 0 1 361.62 186.3C361.62 188.1 360.62 188.1 360.62 189.1Q360.62 190.5 362.02 190.5L371.5 190.5" stroke="#674086"/>
<path d="M371.5 190.5L381.85 190.5Q383.25 190.5 383.25 191.9C383.25 192.9 382.25 192.9 382.25 194.7A4.2 3.5 0 0 0 390.65 194.7C390.65 192.9 389.65 192.9 389.65 191.9Q389.65 190.5 391.05 190.5L399.1 190.5" stroke="#724186"/>
<path d="M399.1 190.5L407.98 190.5Q409.38 190.5 409.38 189.1C409.38 188.1 408.38 188.1 408.38 186.3A4.2 3.5 0 0 1 416.78 186.3C416.78 188.1 415.78 188.1 415.78 189.1Q415.78 190.5 417.18 190.5L426.7 190.5" stroke="#814288"/>
<path d="M426.7 190.5L434.75 190.5Q436.15 190.5 436.15 189.1C436.15 188.1 435.15 188.1 435.15 186.3A4.2 3.5 0 0 1 443.55 186.3C443.55 188.1 442.55 188.1 442.55 189.1Q442.55 190.5 443.95 190.5L454.3 190.5" stroke="#a0458a"/>
<path d="M454.3 190.5L461.85 190.5Q463.25 190.5 463.25 189.1C463.25 188.1 462.25 188.1 462.25 186.3A4.2 3.5 0 0 1 470.65 186.3C470.65 188.1 469.65 188.1 469.65 189.1Q469.65 190.5 471.05 190.5L481.9 190.5" stroke="#b4478c"/>
<path d="M481.9 190.5L490.88 190.5Q492.28 190.5 492.28 191.9C492.28 192.9 491.28 192.9 491.28 194.7A4.2 3.5 0 0 0 499.68 194.7C499.68 192.9 498.68 192.9 498.68 191.9Q498.68 190.5 500.08 190.5L509.5 190.5" stroke="#583f84"/>
<path d="M509.5 190.5L517.98 190.5Q519.38 190.5 519.38 189.1C519.38 188.1 518.38 188.1 518.38 186.3A4.2 3.5 0 0 1 526.78 186.3C526.78 188.1 525.78 188.1 525.78 189.1Q525.78 190.5 527.18 190.5L537.2 190.5" stroke="#a0458a"/>
<path d="M537.2 190.5L546.69 190.5Q548.09 190.5 548.09 191.9C548.09 192.9 547.09 192.9 547.09 194.7A4.2 3.5 0 0 0 555.49 194.7C555.49 192.9 554.49 192.9 554.49 191.9Q554.49 190.5 555.89 190.5L564.8 190.5" stroke="#5f3f85"/>
<path d="M564.8 190.5L574.75 190.5Q576.15 190.5 576.15 191.9C576.15 192.9 575.15 192.9 575.15 194.7A4.2 3.5 0 0 0 583.55 194.7C583.55 192.9 582.55 192.9 582.55 191.9Q582.55 190.5 583.95 190.5L594.7 190.5" stroke="#a0458a"/>
<path d="M91 225.2L103.9 225.2Q105.3 225.2 105.3 223.8C105.3 222.8 104.3 222.8 104.3 221A4.2 3.5 0 0 1 112.7 221C112.7 222.8 111.7 222.8 111.7 223.8Q111.7 225.2 113.1 225.2L123 225.2" stroke="url(#g1)"/>
<path d="M123 225.2L130.82 225.2Q132.22 225.2 132.22 223.8C132.22 222.8 131.22 222.8 131.22 221A4.2 3.5 0 0 1 139.62 221C139.62 222.8 138.62 222.8 138.62 223.8Q138.62 225.2 140.02 225.2L150.6 225.2" stroke="#523e84"/>
<path d="M150.6 225.2L158.88 225.2Q160.28 225.2 160.28 223.8C160.28 222.8 159.28 222.8 159.28 221A4.2 3.5 0 0 1 167.68 221C167.68 222.8 166.68 222.8 166.68 223.8Q166.68 225.2 168.08 225.2L178.2 225.2" stroke="#523e84"/>
<path d="M178.2 225.2L186.95 225.2Q188.35 225.2 188.35 226.6C188.35 227.6 187.35 227.6 187.35 229.4A4.2 3.5 0 0 0 195.75 229.4C195.75 227.6 194.75 227.6 194.75 226.6Q194.75 225.2 196.15 225.2L205.8 225.2" stroke="#523e84"/>
<path d="M205.8 225.2L214.75 225.2Q216.15 225.2 216.15 226.6C216.15 227.6 215.15 227.6 215.15 229.4A4.2 3.5 0 0 0 223.55 229.4C223.55 227.6 222.55 227.6 222.55 226.6Q222.55 225.2 223.95 225.2L233.4 225.2" stroke="#523e84"/>
<path d="M233.4 225.2L243.79 225.2Q245.19 225.2 245.19 223.8C245.19 222.8 244.19 222.8 244.19 221A4.2 3.5 0 0 1 252.59 221C252.59 222.8 251.59 222.8 251.59 223.8Q251.59 225.2 252.99 225.2L261.1 225.2" stroke="#523e84"/>
<path d="M261.1 225.2L268.95 225.2Q270.35 225.2 270.35 226.6C270.35 227.6 269.35 227.6 269.35 229.4A4.2 3.5 0 0 0 277.75 229.4C277.75 227.6 276.75 227.6 276.75 226.6Q276.75 225.2 278.15 225.2L288.7 225.2" stroke="#523e84"/>
<path d="M288.7 225.2L297.98 225.2Q299.38 225.2 299.38 223.8C299.38 222.8 298.38 222.8 298.38 221A4.2 3.5 0 0 1 306.78 221C306.78 222.8 305.78 222.8 305.78 223.8Q305.78 225.2 307.18 225.2L316.3 225.2" stroke="#563e84"/>
<path d="M316.3 225.2L325.72 225.2Q327.12 225.2 327.12 226.6C327.12 227.6 326.12 227.6 326.12 229.4A4.2 3.5 0 0 0 334.52 229.4C334.52 227.6 333.52 227.6 333.52 226.6Q333.52 225.2 334.92 225.2L343.9 225.2" stroke="#5c3f85"/>
<path d="M343.9 225.2L351.85 225.2Q353.25 225.2 353.25 226.6C353.25 227.6 352.25 227.6 352.25 229.4A4.2 3.5 0 0 0 360.65 229.4C360.65 227.6 359.65 227.6 359.65 226.6Q359.65 225.2 361.05 225.2L371.5 225.2" stroke="#674086"/>
<path d="M371.5 225.2L381.85 225.2Q383.25 225.2 383.25 223.8C383.25 222.8 382.25 222.8 382.25 221A4.2 3.5 0 0 1 390.65 221C390.65 222.8 389.65 222.8 389.65 223.8Q389.65 225.2 391.05 225.2L399.1 225.2" stroke="#724186"/>
<path d="M399.1 225.2L407.98 225.2Q409.38 225.2 409.38 226.6C409.38 227.6 408.38 227.6 408.38 229.4A4.2 3.5 0 0 0 416.78 229.4C416.78 227.6 415.78 227.6 415.78 226.6Q415.78 225.2 417.18 225.2L426.7 225.2" stroke="#814288"/>
<path d="M426.7 225.2L434.75 225.2Q436.15 225.2 436.15 223.8C436.15 222.8 435.15 222.8 435.15 221A4.2 3.5 0 0 1 443.55 221C443.55 222.8 442.55 222.8 442.55 223.8Q442.55 225.2 443.95 225.2L454.3 225.2" stroke="#724186"/>
<path d="M454.3 225.2L461.85 225.2Q463.25 225.2 463.25 223.8C463.25 222.8 462.25 222.8 462.25 221A4.2 3.5 0 0 1 470.65 221C470.65 222.8 469.65 222.8 469.65 223.8Q469.65 225.2 471.05 225.2L481.9 225.2" stroke="#583f84"/>
<path d="M481.9 225.2L489.92 225.2Q491.32 225.2 491.32 223.8C491.32 222.8 490.32 222.8 490.32 221A4.2 3.5 0 0 1 498.72 221C498.72 222.8 497.72 222.8 497.72 223.8Q497.72 225.2 499.12 225.2L509.5 225.2" stroke="#6c4086"/>
<path d="M509.5 225.2L517.01 225.2Q518.41 225.2 518.41 226.6C518.41 227.6 517.41 227.6 517.41 229.4A4.2 3.5 0 0 0 525.81 229.4C525.81 227.6 524.81 227.6 524.81 226.6Q524.81 225.2 526.21 225.2L537.2 225.2" stroke="#804288"/>
<path d="M537.2 225.2L545.72 225.2Q547.12 225.2 547.12 223.8C547.12 222.8 546.12 222.8 546.12 221A4.2 3.5 0 0 1 554.52 221C554.52 222.8 553.52 222.8 553.52 223.8Q553.52 225.2 554.92 225.2L564.8 225.2" stroke="#cb498d"/>
<path d="M564.8 225.2L573.79 225.2Q575.19 225.2 575.19 226.6C575.19 227.6 574.19 227.6 574.19 229.4A4.2 3.5 0 0 0 582.59 229.4C582.59 227.6 581.59 227.6 581.59 226.6Q581.59 225.2 582.99 225.2L594.7 225.2" stroke="#ce498e"/>
<path d="M91 259.95L103.9 259.95Q105.3 259.95 105.3 261.35C105.3 262.35 104.3 262.35 104.3 264.15A4.2 3.5 0 0 0 112.7 264.15C112.7 262.35 111.7 262.35 111.7 261.35Q111.7 259.95 113.1 259.95L123 259.95" stroke="#523e84"/>
<path d="M123 259.95L130.82 259.95Q132.22 259.95 132.22 258.55C132.22 257.55 131.22 257.55 131.22 255.75A4.2 3.5 0 0 1 139.62 255.75C139.62 257.55 138.62 257.55 138.62 258.55Q138.62 259.95 140.02 259.95L150.6 259.95" stroke="#523e84"/>
<path d="M150.6 259.95L158.88 259.95Q160.28 259.95 160.28 258.55C160.28 257.55 159.28 257.55 159.28 255.75A4.2 3.5 0 0 1 167.68 255.75C167.68 257.55 166.68 257.55 166.68 258.55Q166.68 259.95 168.08 259.95L178.2 259.95" stroke="#523e84"/>
<path d="M178.2 259.95L186.95 259.95Q188.35 259.95 188.35 258.55C188.35 257.55 187.35 257.55 187.35 255.75A4.2 3.5 0 0 1 195.75 255.75C195.75 257.55 194.75 257.55 194.75 258.55Q194.75 259.95 196.15 259.95L205.8 259.95" stroke="#523e84"/>
<path d="M205.8 259.95L214.75 259.95Q216.15 259.95 216.15 261.35C216.15 262.35 215.15 262.35 215.15 264.15A4.2 3.5 0 0 0 223.55 264.15C223.55 262.35 222.55 262.35 222.55 261.35Q222.55 259.95 223.95 259.95L233.4 259.95" stroke="#523e84"/>
<path d="M233.4 259.95L241.85 259.95Q243.25 259.95 243.25 261.35C243.25 262.35 242.25 262.35 242.25 264.15A4.2 3.5 0 0 0 250.65 264.15C250.65 262.35 249.65 262.35 249.65 261.35Q249.65 259.95 251.05 259.95L261.1 259.95" stroke="#523e84"/>
<path d="M261.1 259.95L269.92 259.95Q271.32 259.95 271.32 261.35C271.32 262.35 270.32 262.35 270.32 264.15A4.2 3.5 0 0 0 278.72 264.15C278.72 262.35 277.72 262.35 277.72 261.35Q277.72 259.95 279.12 259.95L288.7 259.95" stroke="#523e84"/>
<path d="M288.7 259.95L297.01 259.95Q298.41 259.95 298.41 258.55C298.41 257.55 297.41 257.55 297.41 255.75A4.2 3.5 0 0 1 305.81 255.75C305.81 257.55 304.81 257.55 304.81 258.55Q304.81 259.95 306.21 259.95L316.3 259.95" stroke="#563e84"/>
<path d="M316.3 259.95L324.75 259.95Q326.15 259.95 326.15 261.35C326.15 262.35 325.15 262.35 325.15 264.15A4.2 3.5 0 0 0 333.55 264.15C333.55 262.35 332.55 262.35 332.55 261.35Q332.55 259.95 333.95 259.95L343.9 259.95" stroke="#5c3f85"/>
<path d="M343.9 259.95L352.82 259.95Q354.22 259.95 354.22 258.55C354.22 257.55 353.22 257.55 353.22 255.75A4.2 3.5 0 0 1 361.62 255.75C361.62 257.55 360.62 257.55 360.62 258.55Q360.62 259.95 362.02 259.95L371.5 259.95" stroke="#674086"/>
<path d="M371.5 259.95L382.82 259.95Q384.22 259.95 384.22 261.35C384.22 262.35 383.22 262.35 383.22 264.15A4.2 3.5 0 0 0 391.62 264.15C391.62 262.35 390.62 262.35 390.62 261.35Q390.62 259.95 392.02 259.95L399.1 259.95" stroke="#724186"/>
<path d="M399.1 259.95L406.05 259.95Q407.45 259.95 407.45 258.55C407.45 257.55 406.45 257.55 406.45 255.75A4.2 3.5 0 0 1 414.85 255.75C414.85 257.55 413.85 257.55 413.85 258.55Q413.85 259.95 415.25 259.95L426.7 259.95" stroke="#814288"/>
<path d="M426.7 259.95L434.75 259.95Q436.15 259.95 436.15 261.35C436.15 262.35 435.15 262.35 435.15 264.15A4.2 3.5 0 0 0 443.55 264.15C443.55 262.35 442.55 262.35 442.55 261.35Q442.55 259.95 443.95 259.95L454.3 259.95" stroke="#934489"/>
<path d="M454.3 259.95L461.85 259.95Q463.25 259.95 463.25 258.55C463.25 257.55 462.25 257.55 462.25 255.75A4.2 3.5 0 0 1 470.65 255.75C470.65 257.55 469.65 257.55 469.65 258.55Q469.65 259.95 471.05 259.95L481.9 259.95" stroke="#8c4388"/>
<path d="M481.9 259.95L489.92 259.95Q491.32 259.95 491.32 258.55C491.32 257.55 490.32 257.55 490.32 255.75A4.2 3.5 0 0 1 498.72 255.75C498.72 257.55 497.72 257.55 497.72 258.55Q497.72 259.95 499.12 259.95L509.5 259.95" stroke="#9a458a"/>
<path d="M509.5 259.95L517.01 259.95Q518.41 259.95 518.41 258.55C518.41 257.55 517.41 257.55 517.41 255.75A4.2 3.5 0 0 1 525.81 255.75C525.81 257.55 524.81 257.55 524.81 258.55Q524.81 259.95 526.21 259.95L537.2 259.95" stroke="#c7498d"/>
<path d="M537.2 259.95L545.72 259.95Q547.12 259.95 547.12 261.35C547.12 262.35 546.12 262.35 546.12 264.15A4.2 3.5 0 0 0 554.52 264.15C554.52 262.35 553.52 262.35 553.52 261.35Q553.52 259.95 554.92 259.95L564.8 259.95" stroke="#cb498d"/>
<path d="M564.8 259.95L573.79 259.95Q575.19 259.95 575.19 258.55C575.19 257.55 574.19 257.55 574.19 255.75A4.2 3.5 0 0 1 582.59 255.75C582.59 257.55 581.59 257.55 581.59 258.55Q581.59 259.95 582.99 259.95L594.7 259.95" stroke="#ce498e"/>
<path d="M91 294.7L103.9 294.7Q105.3 294.7 105.3 293.3C105.3 292.3 104.3 292.3 104.3 290.5A4.2 3.5 0 0 1 112.7 290.5C112.7 292.3 111.7 292.3 111.7 293.3Q111.7 294.7 113.1 294.7L123 294.7" stroke="#523e84"/>
<path d="M123 294.7L131.79 294.7Q133.19 294.7 133.19 296.1C133.19 297.1 132.19 297.1 132.19 298.9A4.2 3.5 0 0 0 140.59 298.9C140.59 297.1 139.59 297.1 139.59 296.1Q139.59 294.7 140.99 294.7L150.6 294.7" stroke="#523e84"/>
<path d="M150.6 294.7L157.92 294.7Q159.32 294.7 159.32 293.3C159.32 292.3 158.32 292.3 158.32 290.5A4.2 3.5 0 0 1 166.72 290.5C166.72 292.3 165.72 292.3 165.72 293.3Q165.72 294.7 167.12 294.7L178.2 294.7" stroke="#523e84"/>
<path d="M178.2 294.7L185.98 294.7Q187.38 294.7 187.38 293.3C187.38 292.3 186.38 292.3 186.38 290.5A4.2 3.5 0 0 1 194.78 290.5C194.78 292.3 193.78 292.3 193.78 293.3Q193.78 294.7 195.18 294.7L205.8 294.7" stroke="#523e84"/>
<path d="M205.8 294.7L214.75 294.7Q216.15 294.7 216.15 293.3C216.15 292.3 215.15 292.3 215.15 290.5A4.2 3.5 0 0 1 223.55 290.5C223.55 292.3 222.55 292.3 222.55 293.3Q222.55 294.7 223.95 294.7L233.4 294.7" stroke="#523e84"/>
<path d="M233.4 294.7L242.82 294.7Q244.22 294.7 244.22 296.1C244.22 297.1 243.22 297.1 243.22 298.9A4.2 3.5 0 0 0 251.62 298.9C251.62 297.1 250.62 297.1 250.62 296.1Q250.62 294.7 252.02 294.7L261.1 294.7" stroke="#523e84"/>
<path d="M261.1 294.7L269.92 294.7Q271.32 294.7 271.32 293.3C271.32 292.3 270.32 292.3 270.32 290.5A4.2 3.5 0 0 1 278.72 290.5C278.72 292.3 277.72 292.3 277.72 293.3Q277.72 294.7 279.12 294.7L288.7 294.7" stroke="#523e84"/>
<path d="M288.7 294.7L297.98 294.7Q299.38 294.7 299.38 296.1C299.38 297.1 298.38 297.1 298.38 298.9A4.2 3.5 0 0 0 306.78 298.9C306.78 297.1 305.78 297.1 305.78 296.1Q305.78 294.7 307.18 294.7L316.3 294.7" stroke="#563e84"/>
<path d="M316.3 294.7L324.75 294.7Q326.15 294.7 326.15 293.3C326.15 292.3 325.15 292.3 325.15 290.5A4.2 3.5 0 0 1 333.55 290.5C333.55 292.3 332.55 292.3 332.55 293.3Q332.55 294.7 333.95 294.7L343.9 294.7" stroke="#5c3f85"/>
<path d="M343.9 294.7L352.82 294.7Q354.22 294.7 354.22 293.3C354.22 292.3 353.22 292.3 353.22 290.5A4.2 3.5 0 0 1 361.62 290.5C361.62 292.3 360.62 292.3 360.62 293.3Q360.62 294.7 362.02 294.7L371.5 294.7" stroke="#674086"/>
<path d="M371.5 294.7L381.85 294.7Q383.25 294.7 383.25 293.3C383.25 292.3 382.25 292.3 382.25 290.5A4.2 3.5 0 0 1 390.65 290.5C390.65 292.3 389.65 292.3 389.65 293.3Q389.65 294.7 391.05 294.7L399.1 294.7" stroke="#724186"/>
<path d="M399.1 294.7L407.98 294.7Q409.38 294.7 409.38 296.1C409.38 297.1 408.38 297.1 408.38 298.9A4.2 3.5 0 0 0 416.78 298.9C416.78 297.1 415.78 297.1 415.78 296.1Q415.78 294.7 417.18 294.7L426.7 294.7" stroke="#814288"/>
<path d="M426.7 294.7L434.75 294.7Q436.15 294.7 436.15 293.3C436.15 292.3 435.15 292.3 435.15 290.5A4.2 3.5 0 0 1 443.55 290.5C443.55 292.3 442.55 292.3 442.55 293.3Q442.55 294.7 443.95 294.7L454.3 294.7" stroke="#934489"/>
<path d="M454.3 294.7L462.82 294.7Q464.22 294.7 464.22 296.1C464.22 297.1 463.22 297.1 463.22 298.9A4.2 3.5 0 0 0 471.62 298.9C471.62 297.1 470.62 297.1 470.62 296.1Q470.62 294.7 472.02 294.7L481.9 294.7" stroke="#934489"/>
<path d="M481.9 294.7L489.92 294.7Q491.32 294.7 491.32 293.3C491.32 292.3 490.32 292.3 490.32 290.5A4.2 3.5 0 0 1 498.72 290.5C498.72 292.3 497.72 292.3 497.72 293.3Q497.72 294.7 499.12 294.7L509.5 294.7" stroke="#bd488c"/>
<path d="M509.5 294.7L517.01 294.7Q518.41 294.7 518.41 293.3C518.41 292.3 517.41 292.3 517.41 290.5A4.2 3.5 0 0 1 525.81 290.5C525.81 292.3 524.81 292.3 524.81 293.3Q524.81 294.7 526.21 294.7L537.2 294.7" stroke="#c7498d"/>
<path d="M537.2 294.7L545.72 294.7Q547.12 294.7 547.12 293.3C547.12 292.3 546.12 292.3 546.12 290.5A4.2 3.5 0 0 1 554.52 290.5C554.52 292.3 553.52 292.3 553.52 293.3Q553.52 294.7 554.92 294.7L564.8 294.7" stroke="#cb498d"/>
<path d="M564.8 294.7L573.79 294.7Q575.19 294.7 575.19 296.1C575.19 297.1 574.19 297.1 574.19 298.9A4.2 3.5 0 0 0 582.59 298.9C582.59 297.1 581.59 297.1 581.59 296.1Q581.59 294.7 582.99 294.7L594.7 294.7" stroke="#ce498e"/>
<path d="M91 329.4L103.9 329.4Q105.3 329.4 105.3 330.8C105.3 331.8 104.3 331.8 104.3 333.6A4.2 3.5 0 0 0 112.7 333.6C112.7 331.8 111.7 331.8 111.7 330.8Q111.7 329.4 113.1 329.4L123 329.4" stroke="#523e84"/>
<path d="M123 329.4L130.82 329.4Q132.22 329.4 132.22 328C132.22 327 131.22 327 131.22 325.2A4.2 3.5 0 0 1 139.62 325.2C139.62 327 138.62 327 138.62 328Q138.62 329.4 140.02 329.4L150.6 329.4" stroke="#523e84"/>
<path d="M150.6 329.4L159.85 329.4Q161.25 329.4 161.25 328C161.25 327 160.25 327 160.25 325.2A4.2 3.5 0 0 1 168.65 325.2C168.65 327 167.65 327 167.65 328Q167.65 329.4 169.05 329.4L178.2 329.4" stroke="#523e84"/>
<path d="M178.2 329.4L187.92 329.4Q189.32 329.4 189.32 328C189.32 327 188.32 327 188.32 325.2A4.2 3.5 0 0 1 196.72 325.2C196.72 327 195.72 327 195.72 328Q195.72 329.4 197.12 329.4L205.8 329.4" stroke="#523e84"/>
<path d="M205.8 329.4L214.75 329.4Q216.15 329.4 216.15 330.8C216.15 331.8 215.15 331.8 215.15 333.6A4.2 3.5 0 0 0 223.55 333.6C223.55 331.8 222.55 331.8 222.55 330.8Q222.55 329.4 223.95 329.4L233.4 329.4" stroke="#523e84"/>
<path d="M233.4 329.4L241.85 329.4Q243.25 329.4 243.25 330.8C243.25 331.8 242.25 331.8 242.25 333.6A4.2 3.5 0 0 0 250.65 333.6C250.65 331.8 249.65 331.8 249.65 330.8Q249.65 329.4 251.05 329.4L261.1 329.4" stroke="#523e84"/>
<path d="M261.1 329.4L269.92 329.4Q271.32 329.4 271.32 330.8C271.32 331.8 270.32 331.8 270.32 333.6A4.2 3.5 0 0 0 278.72 333.6C278.72 331.8 277.72 331.8 277.72 330.8Q277.72 329.4 279.12 329.4L288.7 329.4" stroke="#523e84"/>
<path d="M288.7 329.4L297.01 329.4Q298.41 329.4 298.41 328C298.41 327 297.41 327 297.41 325.2A4.2 3.5 0 0 1 305.81 325.2C305.81 327 304.81 327 304.81 328Q304.81 329.4 306.21 329.4L316.3 329.4" stroke="#563e84"/>
<path d="M316.3 329.4L326.69 329.4Q328.09 329.4 328.09 328C328.09 327 327.09 327 327.09 325.2A4.2 3.5 0 0 1 335.49 325.2C335.49 327 334.49 327 334.49 328Q334.49 329.4 335.89 329.4L343.9 329.4" stroke="#5c3f85"/>
<path d="M343.9 329.4L352.82 329.4Q354.22 329.4 354.22 328C354.22 327 353.22 327 353.22 325.2A4.2 3.5 0 0 1 361.62 325.2C361.62 327 360.62 327 360.62 328Q360.62 329.4 362.02 329.4L371.5 329.4" stroke="#674086"/>
<path d="M371.5 329.4L381.85 329.4Q383.25 329.4 383.25 330.8C383.25 331.8 382.25 331.8 382.25 333.6A4.2 3.5 0 0 0 390.65 333.6C390.65 331.8 389.65 331.8 389.65 330.8Q389.65 329.4 391.05 329.4L399.1 329.4" stroke="#724186"/>
<path d="M399.1 329.4L407.01 329.4Q408.41 329.4 408.41 328C408.41 327 407.41 327 407.41 325.2A4.2 3.5 0 0 1 415.81 325.2C415.81 327 414.81 327 414.81 328Q414.81 329.4 416.21 329.4L426.7 329.4" stroke="#814288"/>
<path d="M426.7 329.4L434.75 329.4Q436.15 329.4 436.15 330.8C436.15 331.8 435.15 331.8 435.15 333.6A4.2 3.5 0 0 0 443.55 333.6C443.55 331.8 442.55 331.8 442.55 330.8Q442.55 329.4 443.95 329.4L454.3 329.4" stroke="#934489"/>
<path d="M454.3 329.4L461.85 329.4Q463.25 329.4 463.25 328C463.25 327 462.25 327 462.25 325.2A4.2 3.5 0 0 1 470.65 325.2C470.65 327 469.65 327 469.65 328Q469.65 329.4 471.05 329.4L481.9 329.4" stroke="#a8468b"/>
<path d="M481.9 329.4L489.92 329.4Q491.32 329.4 491.32 328C491.32 327 490.32 327 490.32 325.2A4.2 3.5 0 0 1 498.72 325.2C498.72 327 497.72 327 497.72 328Q497.72 329.4 499.12 329.4L509.5 329.4" stroke="#bd488c"/>
<path d="M509.5 329.4L517.01 329.4Q518.41 329.4 518.41 328C518.41 327 517.41 327 517.41 325.2A4.2 3.5 0 0 1 525.81 325.2C525.81 327 524.81 327 524.81 328Q524.81 329.4 526.21 329.4L537.2 329.4" stroke="#c7498d"/>
<path d="M537.2 329.4L545.72 329.4Q547.12 329.4 547.12 330.8C547.12 331.8 546.12 331.8 546.12 333.6A4.2 3.5 0 0 0 554.52 333.6C554.52 331.8 553.52 331.8 553.52 330.8Q553.52 329.4 554.92 329.4L564.8 329.4" stroke="#cb498d"/>
<path d="M564.8 329.4L573.79 329.4Q575.19 329.4 575.19 328C575.19 327 574.19 327 574.19 325.2A4.2 3.5 0 0 1 582.59 325.2C582.59 327 581.59 327 581.59 328Q581.59 329.4 582.99 329.4L594.7 329.4" stroke="#ce498e"/>
<path d="M91 364.1L103.9 364.1Q105.3 364.1 105.3 362.7C105.3 361.7 104.3 361.7 104.3 359.9A4.2 3.5 0 0 1 112.7 359.9C112.7 361.7 111.7 361.7 111.7 362.7Q111.7 364.1 113.1 364.1L123 364.1" stroke="#523e84"/>
<path d="M123 364.1L130.82 364.1Q132.22 364.1 132.22 365.5C132.22 366.5 131.22 366.5 131.22 368.3A4.2 3.5 0 0 0 139.62 368.3C139.62 366.5 138.62 366.5 138.62 365.5Q138.62 364.1 140.02 364.1L150.6 364.1" stroke="#523e84"/>
<path d="M150.6 364.1L157.92 364.1Q159.32 364.1 159.32 362.7C159.32 361.7 158.32 361.7 158.32 359.9A4.2 3.5 0 0 1 166.72 359.9C166.72 361.7 165.72 361.7 165.72 362.7Q165.72 364.1 167.12 364.1L178.2 364.1" stroke="#523e84"/>
<path d="M178.2 364.1L185.98 364.1Q187.38 364.1 187.38 362.7C187.38 361.7 186.38 361.7 186.38 359.9A4.2 3.5 0 0 1 194.78 359.9C194.78 361.7 193.78 361.7 193.78 362.7Q193.78 364.1 195.18 364.1L205.8 364.1" stroke="#523e84"/>
<path d="M205.8 364.1L214.75 364.1Q216.15 364.1 216.15 362.7C216.15 361.7 215.15 361.7 215.15 359.9A4.2 3.5 0 0 1 223.55 359.9C223.55 361.7 222.55 361.7 222.55 362.7Q222.55 364.1 223.95 364.1L233.4 364.1" stroke="#523e84"/>
<path d="M233.4 364.1L242.82 364.1Q244.22 364.1 244.22 365.5C244.22 366.5 243.22 366.5 243.22 368.3A4.2 3.5 0 0 0 251.62 368.3C251.62 366.5 250.62 366.5 250.62 365.5Q250.62 364.1 252.02 364.1L261.1 364.1" stroke="#523e84"/>
<path d="M261.1 364.1L269.92 364.1Q271.32 364.1 271.32 362.7C271.32 361.7 270.32 361.7 270.32 359.9A4.2 3.5 0 0 1 278.72 359.9C278.72 361.7 277.72 361.7 277.72 362.7Q277.72 364.1 279.12 364.1L288.7 364.1" stroke="#523e84"/>
<path d="M288.7 364.1L297.01 364.1Q298.41 364.1 298.41 365.5C298.41 366.5 297.41 366.5 297.41 368.3A4.2 3.5 0 0 0 305.81 368.3C305.81 366.5 304.81 366.5 304.81 365.5Q304.81 364.1 306.21 364.1L316.3 364.1" stroke="#563e84"/>
<path d="M316.3 364.1L325.72 364.1Q327.12 364.1 327.12 362.7C327.12 361.7 326.12 361.7 326.12 359.9A4.2 3.5 0 0 1 334.52 359.9C334.52 361.7 333.52 361.7 333.52 362.7Q333.52 364.1 334.92 364.1L343.9 364.1" stroke="#5c3f85"/>
<path d="M343.9 364.1L352.82 364.1Q354.22 364.1 354.22 365.5C354.22 366.5 353.22 366.5 353.22 368.3A4.2 3.5 0 0 0 361.62 368.3C361.62 366.5 360.62 366.5 360.62 365.5Q360.62 364.1 362.02 364.1L371.5 364.1" stroke="#674086"/>
<path d="M371.5 364.1L381.85 364.1Q383.25 364.1 383.25 362.7C383.25 361.7 382.25 361.7 382.25 359.9A4.2 3.5 0 0 1 390.65 359.9C390.65 361.7 389.65 361.7 389.65 362.7Q389.65 364.1 391.05 364.1L399.1 364.1" stroke="#724186"/>
<path d="M399.1 364.1L407.98 364.1Q409.38 364.1 409.38 365.5C409.38 366.5 408.38 366.5 408.38 368.3A4.2 3.5 0 0 0 416.78 368.3C416.78 366.5 415.78 366.5 415.78 365.5Q415.78 364.1 417.18 364.1L426.7 364.1" stroke="#814288"/>
<path d="M426.7 364.1L435.72 364.1Q437.12 364.1 437.12 362.7C437.12 361.7 436.12 361.7 436.12 359.9A4.2 3.5 0 0 1 444.52 359.9C444.52 361.7 443.52 361.7 443.52 362.7Q443.52 364.1 444.92 364.1L454.3 364.1" stroke="#934489"/>
<path d="M454.3 364.1L462.82 364.1Q464.22 364.1 464.22 365.5C464.22 366.5 463.22 366.5 463.22 368.3A4.2 3.5 0 0 0 471.62 368.3C471.62 366.5 470.62 366.5 470.62 365.5Q470.62 364.1 472.02 364.1L481.9 364.1" stroke="#a8468b"/>
<path d="M481.9 364.1L489.92 364.1Q491.32 364.1 491.32 362.7C491.32 361.7 490.32 361.7 490.32 359.9A4.2 3.5 0 0 1 498.72 359.9C498.72 361.7 497.72 361.7 497.72 362.7Q497.72 364.1 499.12 364.1L509.5 364.1" stroke="#bd488c"/>
<path d="M509.5 364.1L517.01 364.1Q518.41 364.1 518.41 362.7C518.41 361.7 517.41 361.7 517.41 359.9A4.2 3.5 0 0 1 525.81 359.9C525.81 361.7 524.81 361.7 524.81 362.7Q524.81 364.1 526.21 364.1L537.2 364.1" stroke="#c7498d"/>
<path d="M537.2 364.1L545.72 364.1Q547.12 364.1 547.12 362.7C547.12 361.7 546.12 361.7 546.12 359.9A4.2 3.5 0 0 1 554.52 359.9C554.52 361.7 553.52 361.7 553.52 362.7Q553.52 364.1 554.92 364.1L564.8 364.1" stroke="#cb498d"/>
<path d="M564.8 364.1L573.79 364.1Q575.19 364.1 575.19 365.5C575.19 366.5 574.19 366.5 574.19 368.3A4.2 3.5 0 0 0 582.59 368.3C582.59 366.5 581.59 366.5 581.59 365.5Q581.59 364.1 582.99 364.1L594.7 364.1" stroke="#5f3f85"/>
<path d="M91 398.85L103.9 398.85Q105.3 398.85 105.3 400.25C105.3 401.25 104.3 401.25 104.3 403.05A4.2 3.5 0 0 0 112.7 403.05C112.7 401.25 111.7 401.25 111.7 400.25Q111.7 398.85 113.1 398.85L123 398.85" stroke="#523e84"/>
<path d="M123 398.85L130.82 398.85Q132.22 398.85 132.22 397.45C132.22 396.45 131.22 396.45 131.22 394.65A4.2 3.5 0 0 1 139.62 394.65C139.62 396.45 138.62 396.45 138.62 397.45Q138.62 398.85 140.02 398.85L150.6 398.85" stroke="#523e84"/>
<path d="M150.6 398.85L158.88 398.85Q160.28 398.85 160.28 400.25C160.28 401.25 159.28 401.25 159.28 403.05A4.2 3.5 0 0 0 167.68 403.05C167.68 401.25 166.68 401.25 166.68 400.25Q166.68 398.85 168.08 398.85L178.2 398.85" stroke="#523e84"/>
<path d="M178.2 398.85L185.98 398.85Q187.38 398.85 187.38 397.45C187.38 396.45 186.38 396.45 186.38 394.65A4.2 3.5 0 0 1 194.78 394.65C194.78 396.45 193.78 396.45 193.78 397.45Q193.78 398.85 195.18 398.85L205.8 398.85" stroke="#523e84"/>
<path d="M205.8 398.85L214.75 398.85Q216.15 398.85 216.15 397.45C216.15 396.45 215.15 396.45 215.15 394.65A4.2 3.5 0 0 1 223.55 394.65C223.55 396.45 222.55 396.45 222.55 397.45Q222.55 398.85 223.95 398.85L233.4 398.85" stroke="#523e84"/>
<path d="M233.4 398.85L242.82 398.85Q244.22 398.85 244.22 397.45C244.22 396.45 243.22 396.45 243.22 394.65A4.2 3.5 0 0 1 251.62 394.65C251.62 396.45 250.62 396.45 250.62 397.45Q250.62 398.85 252.02 398.85L261.1 398.85" stroke="#523e84"/>
<path d="M261.1 398.85L269.92 398.85Q271.32 398.85 271.32 400.25C271.32 401.25 270.32 401.25 270.32 403.05A4.2 3.5 0 0 0 278.72 403.05C278.72 401.25 277.72 401.25 277.72 400.25Q277.72 398.85 279.12 398.85L288.7 398.85" stroke="#523e84"/>
<path d="M288.7 398.85L297.01 398.85Q298.41 398.85 298.41 397.45C298.41 396.45 297.41 396.45 297.41 394.65A4.2 3.5 0 0 1 305.81 394.65C305.81 396.45 304.81 396.45 304.81 397.45Q304.81 398.85 306.21 398.85L316.3 398.85" stroke="#563e84"/>
<path d="M316.3 398.85L324.75 398.85Q326.15 398.85 326.15 400.25C326.15 401.25 325.15 401.25 325.15 403.05A4.2 3.5 0 0 0 333.55 403.05C333.55 401.25 332.55 401.25 332.55 400.25Q332.55 398.85 333.95 398.85L343.9 398.85" stroke="#5c3f85"/>
<path d="M343.9 398.85L352.82 398.85Q354.22 398.85 354.22 397.45C354.22 396.45 353.22 396.45 353.22 394.65A4.2 3.5 0 0 1 361.62 394.65C361.62 396.45 360.62 396.45 360.62 397.45Q360.62 398.85 362.02 398.85L371.5 398.85" stroke="#674086"/>
<path d="M371.5 398.85L382.82 398.85Q384.22 398.85 384.22 400.25C384.22 401.25 383.22 401.25 383.22 403.05A4.2 3.5 0 0 0 391.62 403.05C391.62 401.25 390.62 401.25 390.62 400.25Q390.62 398.85 392.02 398.85L399.1 398.85" stroke="#724186"/>
<path d="M399.1 398.85L407.98 398.85Q409.38 398.85 409.38 397.45C409.38 396.45 408.38 396.45 408.38 394.65A4.2 3.5 0 0 1 416.78 394.65C416.78 396.45 415.78 396.45 415.78 397.45Q415.78 398.85 417.18 398.85L426.7 398.85" stroke="#814288"/>
<path d="M426.7 398.85L435.72 398.85Q437.12 398.85 437.12 400.25C437.12 401.25 436.12 401.25 436.12 403.05A4.2 3.5 0 0 0 444.52 403.05C444.52 401.25 443.52 401.25 443.52 400.25Q443.52 398.85 444.92 398.85L454.3 398.85" stroke="#934489"/>
<path d="M454.3 398.85L462.82 398.85Q464.22 398.85 464.22 397.45C464.22 396.45 463.22 396.45 463.22 394.65A4.2 3.5 0 0 1 471.62 394.65C471.62 396.45 470.62 396.45 470.62 397.45Q470.62 398.85 472.02 398.85L481.9 398.85" stroke="#a8468b"/>
<path d="M481.9 398.85L489.92 398.85Q491.32 398.85 491.32 400.25C491.32 401.25 490.32 401.25 490.32 403.05A4.2 3.5 0 0 0 498.72 403.05C498.72 401.25 497.72 401.25 497.72 400.25Q497.72 398.85 499.12 398.85L509.5 398.85" stroke="#bd488c"/>
<path d="M509.5 398.85L517.98 398.85Q519.38 398.85 519.38 397.45C519.38 396.45 518.38 396.45 518.38 394.65A4.2 3.5 0 0 1 526.78 394.65C526.78 396.45 525.78 396.45 525.78 397.45Q525.78 398.85 527.18 398.85L537.2 398.85" stroke="#c7498d"/>
<path d="M537.2 398.85L544.75 398.85Q546.15 398.85 546.15 397.45C546.15 396.45 545.15 396.45 545.15 394.65A4.2 3.5 0 0 1 553.55 394.65C553.55 396.45 552.55 396.45 552.55 397.45Q552.55 398.85 553.95 398.85L564.8 398.85" stroke="#cb498d"/>
<path d="M564.8 398.85L573.79 398.85Q575.19 398.85 575.19 400.25C575.19 401.25 574.19 401.25 574.19 403.05A4.2 3.5 0 0 0 582.59 403.05C582.59 401.25 581.59 401.25 581.59 400.25Q581.59 398.85 582.99 398.85L594.7 398.85" stroke="#ce498e"/>
<path d="M91 433.6L103.9 433.6Q105.3 433.6 105.3 435C105.3 436 104.3 436 104.3 437.8A4.2 3.5 0 0 0 112.7 437.8C112.7 436 111.7 436 111.7 435Q111.7 433.6 113.1 433.6L123 433.6" stroke="#523e84"/>
<path d="M123 433.6L130.82 433.6Q132.22 433.6 132.22 432.2C132.22 431.2 131.22 431.2 131.22 429.4A4.2 3.5 0 0 1 139.62 429.4C139.62 431.2 138.62 431.2 138.62 432.2Q138.62 433.6 140.02 433.6L150.6 433.6" stroke="#523e84"/>
<path d="M150.6 433.6L158.88 433.6Q160.28 433.6 160.28 432.2C160.28 431.2 159.28 431.2 159.28 429.4A4.2 3.5 0 0 1 167.68 429.4C167.68 431.2 166.68 431.2 166.68 432.2Q166.68 433.6 168.08 433.6L178.2 433.6" stroke="#523e84"/>
<path d="M178.2 433.6L186.95 433.6Q188.35 433.6 188.35 432.2C188.35 431.2 187.35 431.2 187.35 429.4A4.2 3.5 0 0 1 195.75 429.4C195.75 431.2 194.75 431.2 194.75 432.2Q194.75 433.6 196.15 433.6L205.8 433.6" stroke="#523e84"/>
<path d="M205.8 433.6L214.75 433.6Q216.15 433.6 216.15 432.2C216.15 431.2 215.15 431.2 215.15 429.4A4.2 3.5 0 0 1 223.55 429.4C223.55 431.2 222.55 431.2 222.55 432.2Q222.55 433.6 223.95 433.6L233.4 433.6" stroke="#523e84"/>
<path d="M233.4 433.6L240.88 433.6Q242.28 433.6 242.28 435C242.28 436 241.28 436 241.28 437.8A4.2 3.5 0 0 0 249.68 437.8C249.68 436 248.68 436 248.68 435Q248.68 433.6 250.08 433.6L261.1 433.6" stroke="#523e84"/>
<path d="M261.1 433.6L269.92 433.6Q271.32 433.6 271.32 432.2C271.32 431.2 270.32 431.2 270.32 429.4A4.2 3.5 0 0 1 278.72 429.4C278.72 431.2 277.72 431.2 277.72 432.2Q277.72 433.6 279.12 433.6L288.7 433.6" stroke="#523e84"/>
<path d="M288.7 433.6L297.98 433.6Q299.38 433.6 299.38 435C299.38 436 298.38 436 298.38 437.8A4.2 3.5 0 0 0 306.78 437.8C306.78 436 305.78 436 305.78 435Q305.78 433.6 307.18 433.6L316.3 433.6" stroke="#563e84"/>
<path d="M316.3 433.6L324.75 433.6Q326.15 433.6 326.15 432.2C326.15 431.2 325.15 431.2 325.15 429.4A4.2 3.5 0 0 1 333.55 429.4C333.55 431.2 332.55 431.2 332.55 432.2Q332.55 433.6 333.95 433.6L343.9 433.6" stroke="#5c3f85"/>
<path d="M343.9 433.6L352.82 433.6Q354.22 433.6 354.22 432.2C354.22 431.2 353.22 431.2 353.22 429.4A4.2 3.5 0 0 1 361.62 429.4C361.62 431.2 360.62 431.2 360.62 432.2Q360.62 433.6 362.02 433.6L371.5 433.6" stroke="#674086"/>
<path d="M371.5 433.6L381.85 433.6Q383.25 433.6 383.25 432.2C383.25 431.2 382.25 431.2 382.25 429.4A4.2 3.5 0 0 1 390.65 429.4C390.65 431.2 389.65 431.2 389.65 432.2Q389.65 433.6 391.05 433.6L399.1 433.6" stroke="#724186"/>
<path d="M399.1 433.6L407.98 433.6Q409.38 433.6 409.38 432.2C409.38 431.2 408.38 431.2 408.38 429.4A4.2 3.5 0 0 1 416.78 429.4C416.78 431.2 415.78 431.2 415.78 432.2Q415.78 433.6 417.18 433.6L426.7 433.6" stroke="#814288"/>
<path d="M426.7 433.6L434.75 433.6Q436.15 433.6 436.15 435C436.15 436 435.15 436 435.15 437.8A4.2 3.5 0 0 0 443.55 437.8C443.55 436 442.55 436 442.55 435Q442.55 433.6 443.95 433.6L454.3 433.6" stroke="#934489"/>
<path d="M454.3 433.6L465.72 433.6Q467.12 433.6 467.12 432.2C467.12 431.2 466.12 431.2 466.12 429.4A4.2 3.5 0 0 1 474.52 429.4C474.52 431.2 473.52 431.2 473.52 432.2Q473.52 433.6 474.92 433.6L481.9 433.6" stroke="#a8468b"/>
<path d="M481.9 433.6L491.85 433.6Q493.25 433.6 493.25 435C493.25 436 492.25 436 492.25 437.8A4.2 3.5 0 0 0 500.65 437.8C500.65 436 499.65 436 499.65 435Q499.65 433.6 501.05 433.6L509.5 433.6" stroke="#bd488c"/>
<path d="M509.5 433.6L517.98 433.6Q519.38 433.6 519.38 435C519.38 436 518.38 436 518.38 437.8A4.2 3.5 0 0 0 526.78 437.8C526.78 436 525.78 436 525.78 435Q525.78 433.6 527.18 433.6L537.2 433.6" stroke="#c7498d"/>
<path d="M537.2 433.6L544.75 433.6Q546.15 433.6 546.15 432.2C546.15 431.2 545.15 431.2 545.15 429.4A4.2 3.5 0 0 1 553.55 429.4C553.55 431.2 552.55 431.2 552.55 432.2Q552.55 433.6 553.95 433.6L564.8 433.6" stroke="#cb498d"/>
<path d="M564.8 433.6L573.79 433.6Q575.19 433.6 575.19 432.2C575.19 431.2 574.19 431.2 574.19 429.4A4.2 3.5 0 0 1 582.59 429.4C582.59 431.2 581.59 431.2 581.59 432.2Q581.59 433.6 582.99 433.6L594.7 433.6" stroke="#664086"/>
<path d="M91 468.3L103.9 468.3Q105.3 468.3 105.3 466.9C105.3 465.9 104.3 465.9 104.3 464.1A4.2 3.5 0 0 1 112.7 464.1C112.7 465.9 111.7 465.9 111.7 466.9Q111.7 468.3 113.1 468.3L123 468.3" stroke="#523e84"/>
<path d="M123 468.3L130.82 468.3Q132.22 468.3 132.22 466.9C132.22 465.9 131.22 465.9 131.22 464.1A4.2 3.5 0 0 1 139.62 464.1C139.62 465.9 138.62 465.9 138.62 466.9Q138.62 468.3 140.02 468.3L150.6 468.3" stroke="#523e84"/>
<path d="M150.6 468.3L157.92 468.3Q159.32 468.3 159.32 466.9C159.32 465.9 158.32 465.9 158.32 464.1A4.2 3.5 0 0 1 166.72 464.1C166.72 465.9 165.72 465.9 165.72 466.9Q165.72 468.3 167.12 468.3L178.2 468.3" stroke="#523e84"/>
<path d="M178.2 468.3L185.98 468.3Q187.38 468.3 187.38 466.9C187.38 465.9 186.38 465.9 186.38 464.1A4.2 3.5 0 0 1 194.78 464.1C194.78 465.9 193.78 465.9 193.78 466.9Q193.78 468.3 195.18 468.3L205.8 468.3" stroke="#523e84"/>
<path d="M205.8 468.3L214.75 468.3Q216.15 468.3 216.15 466.9C216.15 465.9 215.15 465.9 215.15 464.1A4.2 3.5 0 0 1 223.55 464.1C223.55 465.9 222.55 465.9 222.55 466.9Q222.55 468.3 223.95 468.3L233.4 468.3" stroke="#523e84"/>
<path d="M233.4 468.3L241.85 468.3Q243.25 468.3 243.25 469.7C243.25 470.7 242.25 470.7 242.25 472.5A4.2 3.5 0 0 0 250.65 472.5C250.65 470.7 249.65 470.7 249.65 469.7Q249.65 468.3 251.05 468.3L261.1 468.3" stroke="#523e84"/>
<path d="M261.1 468.3L269.92 468.3Q271.32 468.3 271.32 466.9C271.32 465.9 270.32 465.9 270.32 464.1A4.2 3.5 0 0 1 278.72 464.1C278.72 465.9 277.72 465.9 277.72 466.9Q277.72 468.3 279.12 468.3L288.7 468.3" stroke="#523e84"/>
<path d="M288.7 468.3L297.01 468.3Q298.41 468.3 298.41 466.9C298.41 465.9 297.41 465.9 297.41 464.1A4.2 3.5 0 0 1 305.81 464.1C305.81 465.9 304.81 465.9 304.81 466.9Q304.81 468.3 306.21 468.3L316.3 468.3" stroke="url(#g2)"/>
<path d="M316.3 468.3L324.75 468.3Q326.15 468.3 326.15 469.7C326.15 470.7 325.15 470.7 325.15 472.5A4.2 3.5 0 0 0 333.55 472.5C333.55 470.7 332.55 470.7 332.55 469.7Q332.55 468.3 333.95 468.3L343.9 468.3" stroke="#5c3f85"/>
<path d="M343.9 468.3L350.88 468.3Q352.28 468.3 352.28 466.9C352.28 465.9 351.28 465.9 351.28 464.1A4.2 3.5 0 0 1 359.68 464.1C359.68 465.9 358.68 465.9 358.68 466.9Q358.68 468.3 360.08 468.3L371.5 468.3" stroke="#674086"/>
<path d="M371.5 468.3L378.95 468.3Q380.35 468.3 380.35 466.9C380.35 465.9 379.35 465.9 379.35 464.1A4.2 3.5 0 0 1 387.75 464.1C387.75 465.9 386.75 465.9 386.75 466.9Q386.75 468.3 388.15 468.3L399.1 468.3" stroke="#724186"/>
<path d="M399.1 468.3L406.05 468.3Q407.45 468.3 407.45 466.9C407.45 465.9 406.45 465.9 406.45 464.1A4.2 3.5 0 0 1 414.85 464.1C414.85 465.9 413.85 465.9 413.85 466.9Q413.85 468.3 415.25 468.3L426.7 468.3" stroke="#6c4086"/>
<path d="M426.7 468.3L435.72 468.3Q437.12 468.3 437.12 466.9C437.12 465.9 436.12 465.9 436.12 464.1A4.2 3.5 0 0 1 444.52 464.1C444.52 465.9 443.52 465.9 443.52 466.9Q443.52 468.3 444.92 468.3L454.3 468.3" stroke="#583f84"/>
<path d="M454.3 468.3L464.75 468.3Q466.15 468.3 466.15 466.9C466.15 465.9 465.15 465.9 465.15 464.1A4.2 3.5 0 0 1 473.55 464.1C473.55 465.9 472.55 465.9 472.55 466.9Q472.55 468.3 473.95 468.3L481.9 468.3" stroke="#8c4388"/>
<path d="M481.9 468.3L489.92 468.3Q491.32 468.3 491.32 469.7C491.32 470.7 490.32 470.7 490.32 472.5A4.2 3.5 0 0 0 498.72 472.5C498.72 470.7 497.72 470.7 497.72 469.7Q497.72 468.3 499.12 468.3L509.5 468.3" stroke="#bd488c"/>
<path d="M509.5 468.3L517.98 468.3Q519.38 468.3 519.38 469.7C519.38 470.7 518.38 470.7 518.38 472.5A4.2 3.5 0 0 0 526.78 472.5C526.78 470.7 525.78 470.7 525.78 469.7Q525.78 468.3 527.18 468.3L537.2 468.3" stroke="#c7498d"/>
<path d="M537.2 468.3L546.69 468.3Q548.09 468.3 548.09 466.9C548.09 465.9 547.09 465.9 547.09 464.1A4.2 3.5 0 0 1 555.49 464.1C555.49 465.9 554.49 465.9 554.49 466.9Q554.49 468.3 555.89 468.3L564.8 468.3" stroke="#794287"/>
<path d="M564.8 468.3L573.79 468.3Q575.19 468.3 575.19 466.9C575.19 465.9 574.19 465.9 574.19 464.1A4.2 3.5 0 0 1 582.59 464.1C582.59 465.9 581.59 465.9 581.59 466.9Q581.59 468.3 582.99 468.3L594.7 468.3" stroke="#8c4388"/>
<path d="M343.9 158V190.5" stroke="#c0488c" stroke-width="2"/>
<path d="M233.4 468.3V500.8" stroke="#c7498d" stroke-width="2"/>
<path d="M509.5 158V190.5" stroke="#ad468b" stroke-width="2"/>
<path d="M399.1 468.3V500.8" stroke="url(#gx1)" stroke-width="2"/>
</g>
</svg>
</body></html>
